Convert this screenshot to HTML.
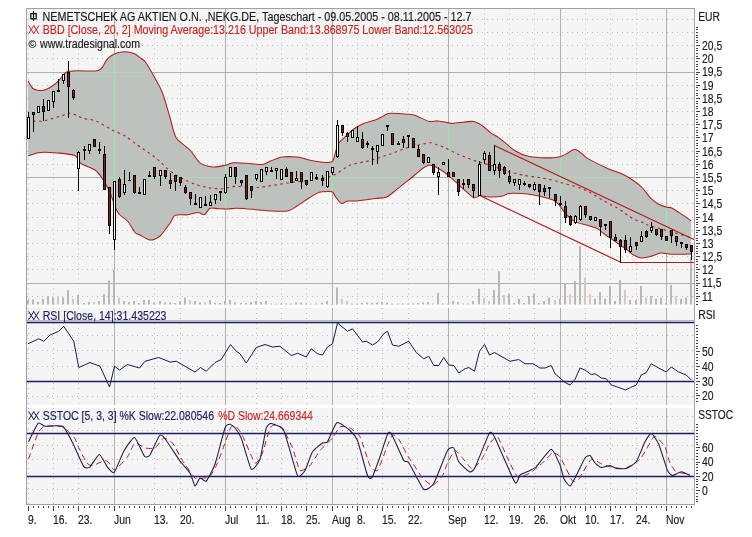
<!DOCTYPE html>
<html><head><meta charset="utf-8"><style>html,body{margin:0;padding:0;width:752px;height:537px;overflow:hidden;background:#fff}</style></head>
<body><svg width="752" height="537" viewBox="0 0 752 537" style="position:absolute;left:0;top:0;will-change:transform" font-family='"Liberation Sans", sans-serif'><rect x="0" y="0" width="752" height="537" fill="#ffffff"/><rect x="27" y="8.5" width="668" height="296.5" fill="#f5f5f5"/><rect x="27" y="308" width="668" height="97" fill="#f5f5f5"/><rect x="27" y="408" width="668" height="96.5" fill="#f5f5f5"/><line x1="27" y1="19.5" x2="695" y2="19.5" stroke="#bcbcbc" stroke-width="1" stroke-dasharray="1 4"/><line x1="27" y1="32.5" x2="695" y2="32.5" stroke="#bcbcbc" stroke-width="1" stroke-dasharray="1 4"/><line x1="27" y1="45.5" x2="695" y2="45.5" stroke="#bcbcbc" stroke-width="1" stroke-dasharray="1 4"/><line x1="27" y1="58.5" x2="695" y2="58.5" stroke="#bcbcbc" stroke-width="1" stroke-dasharray="1 4"/><line x1="27" y1="72.5" x2="695" y2="72.5" stroke="#a8b4a8" stroke-width="1"/><line x1="27" y1="85.5" x2="695" y2="85.5" stroke="#bcbcbc" stroke-width="1" stroke-dasharray="1 4"/><line x1="27" y1="98.5" x2="695" y2="98.5" stroke="#bcbcbc" stroke-width="1" stroke-dasharray="1 4"/><line x1="27" y1="111.5" x2="695" y2="111.5" stroke="#bcbcbc" stroke-width="1" stroke-dasharray="1 4"/><line x1="27" y1="124.5" x2="695" y2="124.5" stroke="#bcbcbc" stroke-width="1" stroke-dasharray="1 4"/><line x1="27" y1="137.5" x2="695" y2="137.5" stroke="#bcbcbc" stroke-width="1" stroke-dasharray="1 4"/><line x1="27" y1="151.5" x2="695" y2="151.5" stroke="#bcbcbc" stroke-width="1" stroke-dasharray="1 4"/><line x1="27" y1="164.5" x2="695" y2="164.5" stroke="#bcbcbc" stroke-width="1" stroke-dasharray="1 4"/><line x1="27" y1="177.5" x2="695" y2="177.5" stroke="#a8b4a8" stroke-width="1"/><line x1="27" y1="190.5" x2="695" y2="190.5" stroke="#bcbcbc" stroke-width="1" stroke-dasharray="1 4"/><line x1="27" y1="203.5" x2="695" y2="203.5" stroke="#bcbcbc" stroke-width="1" stroke-dasharray="1 4"/><line x1="27" y1="217.5" x2="695" y2="217.5" stroke="#bcbcbc" stroke-width="1" stroke-dasharray="1 4"/><line x1="27" y1="230.5" x2="695" y2="230.5" stroke="#bcbcbc" stroke-width="1" stroke-dasharray="1 4"/><line x1="27" y1="243.5" x2="695" y2="243.5" stroke="#bcbcbc" stroke-width="1" stroke-dasharray="1 4"/><line x1="27" y1="256.5" x2="695" y2="256.5" stroke="#bcbcbc" stroke-width="1" stroke-dasharray="1 4"/><line x1="27" y1="269.5" x2="695" y2="269.5" stroke="#bcbcbc" stroke-width="1" stroke-dasharray="1 4"/><line x1="27" y1="283.5" x2="695" y2="283.5" stroke="#a8b4a8" stroke-width="1"/><line x1="27" y1="296.5" x2="695" y2="296.5" stroke="#bcbcbc" stroke-width="1" stroke-dasharray="1 4"/><line x1="28.5" y1="8.5" x2="28.5" y2="305" stroke="#bcbcbc" stroke-width="1" stroke-dasharray="1 4"/><line x1="53.5" y1="8.5" x2="53.5" y2="305" stroke="#bcbcbc" stroke-width="1" stroke-dasharray="1 4"/><line x1="78.5" y1="8.5" x2="78.5" y2="305" stroke="#bcbcbc" stroke-width="1" stroke-dasharray="1 4"/><line x1="154.5" y1="8.5" x2="154.5" y2="305" stroke="#bcbcbc" stroke-width="1" stroke-dasharray="1 4"/><line x1="180.5" y1="8.5" x2="180.5" y2="305" stroke="#bcbcbc" stroke-width="1" stroke-dasharray="1 4"/><line x1="256.5" y1="8.5" x2="256.5" y2="305" stroke="#bcbcbc" stroke-width="1" stroke-dasharray="1 4"/><line x1="281.5" y1="8.5" x2="281.5" y2="305" stroke="#bcbcbc" stroke-width="1" stroke-dasharray="1 4"/><line x1="306.5" y1="8.5" x2="306.5" y2="305" stroke="#bcbcbc" stroke-width="1" stroke-dasharray="1 4"/><line x1="357.5" y1="8.5" x2="357.5" y2="305" stroke="#bcbcbc" stroke-width="1" stroke-dasharray="1 4"/><line x1="382.5" y1="8.5" x2="382.5" y2="305" stroke="#bcbcbc" stroke-width="1" stroke-dasharray="1 4"/><line x1="408.5" y1="8.5" x2="408.5" y2="305" stroke="#bcbcbc" stroke-width="1" stroke-dasharray="1 4"/><line x1="484.5" y1="8.5" x2="484.5" y2="305" stroke="#bcbcbc" stroke-width="1" stroke-dasharray="1 4"/><line x1="509.5" y1="8.5" x2="509.5" y2="305" stroke="#bcbcbc" stroke-width="1" stroke-dasharray="1 4"/><line x1="534.5" y1="8.5" x2="534.5" y2="305" stroke="#bcbcbc" stroke-width="1" stroke-dasharray="1 4"/><line x1="585.5" y1="8.5" x2="585.5" y2="305" stroke="#bcbcbc" stroke-width="1" stroke-dasharray="1 4"/><line x1="610.5" y1="8.5" x2="610.5" y2="305" stroke="#bcbcbc" stroke-width="1" stroke-dasharray="1 4"/><line x1="636.5" y1="8.5" x2="636.5" y2="305" stroke="#bcbcbc" stroke-width="1" stroke-dasharray="1 4"/><line x1="114.5" y1="8.5" x2="114.5" y2="305" stroke="#a8b4a8" stroke-width="1"/><line x1="225.5" y1="8.5" x2="225.5" y2="305" stroke="#a8b4a8" stroke-width="1"/><line x1="332.5" y1="8.5" x2="332.5" y2="305" stroke="#a8b4a8" stroke-width="1"/><line x1="448.5" y1="8.5" x2="448.5" y2="305" stroke="#a8b4a8" stroke-width="1"/><line x1="560.5" y1="8.5" x2="560.5" y2="305" stroke="#a8b4a8" stroke-width="1"/><line x1="666.5" y1="8.5" x2="666.5" y2="305" stroke="#a8b4a8" stroke-width="1"/><rect x="27" y="300" width="2" height="4.5" fill="#b8b8b8"/><rect x="32" y="299.5" width="2" height="5.0" fill="#b8b8b8"/><rect x="37" y="302" width="2" height="2.5" fill="#b8b8b8"/><rect x="42" y="299" width="2" height="5.5" fill="#b8b8b8"/><rect x="47" y="296" width="2" height="8.5" fill="#b8b8b8"/><rect x="52" y="297.5" width="2" height="7.0" fill="#b8b8b8"/><rect x="57" y="296" width="2" height="8.5" fill="#dcc4c4"/><rect x="62" y="297.5" width="2" height="7.0" fill="#b8b8b8"/><rect x="67" y="290" width="2" height="14.5" fill="#b8b8b8"/><rect x="72" y="299" width="2" height="5.5" fill="#dcc4c4"/><rect x="77" y="295" width="2" height="9.5" fill="#b8b8b8"/><rect x="83" y="303" width="2" height="1.5" fill="#b8b8b8"/><rect x="88" y="302" width="2" height="2.5" fill="#b8b8b8"/><rect x="93" y="302" width="2" height="2.5" fill="#dcc4c4"/><rect x="98" y="301" width="2" height="3.5" fill="#b8b8b8"/><rect x="103" y="294" width="2" height="10.5" fill="#b8b8b8"/><rect x="108" y="280.5" width="2" height="24.0" fill="#b8b8b8"/><rect x="113" y="270" width="2" height="34.5" fill="#b8b8b8"/><rect x="118" y="297.5" width="2" height="7.0" fill="#dcc4c4"/><rect x="123" y="301" width="2" height="3.5" fill="#b8b8b8"/><rect x="128" y="302" width="2" height="2.5" fill="#b8b8b8"/><rect x="133" y="301" width="2" height="3.5" fill="#b8b8b8"/><rect x="138" y="303" width="2" height="1.5" fill="#b8b8b8"/><rect x="143" y="300" width="2" height="4.5" fill="#b8b8b8"/><rect x="148" y="300" width="2" height="4.5" fill="#b8b8b8"/><rect x="153" y="302.5" width="2" height="2.0" fill="#b8b8b8"/><rect x="159" y="301" width="2" height="3.5" fill="#b8b8b8"/><rect x="164" y="302.5" width="2" height="2.0" fill="#b8b8b8"/><rect x="169" y="302.5" width="2" height="2.0" fill="#b8b8b8"/><rect x="174" y="303" width="2" height="1.5" fill="#b8b8b8"/><rect x="179" y="301" width="2" height="3.5" fill="#b8b8b8"/><rect x="184" y="297.5" width="2" height="7.0" fill="#b8b8b8"/><rect x="189" y="300" width="2" height="4.5" fill="#dcc4c4"/><rect x="194" y="301" width="2" height="3.5" fill="#b8b8b8"/><rect x="199" y="302.5" width="2" height="2.0" fill="#b8b8b8"/><rect x="204" y="302.5" width="2" height="2.0" fill="#dcc4c4"/><rect x="209" y="300" width="2" height="4.5" fill="#b8b8b8"/><rect x="214" y="303" width="2" height="1.5" fill="#b8b8b8"/><rect x="219" y="303" width="2" height="1.5" fill="#b8b8b8"/><rect x="224" y="301" width="2" height="3.5" fill="#b8b8b8"/><rect x="229" y="300" width="2" height="4.5" fill="#b8b8b8"/><rect x="234" y="302.5" width="2" height="2.0" fill="#b8b8b8"/><rect x="240" y="303" width="2" height="1.5" fill="#b8b8b8"/><rect x="245" y="303" width="2" height="1.5" fill="#b8b8b8"/><rect x="250" y="302" width="2" height="2.5" fill="#b8b8b8"/><rect x="255" y="301" width="2" height="3.5" fill="#b8b8b8"/><rect x="260" y="302" width="2" height="2.5" fill="#b8b8b8"/><rect x="265" y="301" width="2" height="3.5" fill="#b8b8b8"/><rect x="270" y="303.5" width="2" height="1.0" fill="#b8b8b8"/><rect x="275" y="303.75" width="2" height="0.75" fill="#b8b8b8"/><rect x="280" y="303.75" width="2" height="0.75" fill="#b8b8b8"/><rect x="285" y="303.5" width="2" height="1.0" fill="#b8b8b8"/><rect x="290" y="303.5" width="2" height="1.0" fill="#b8b8b8"/><rect x="295" y="302.5" width="2" height="2.0" fill="#b8b8b8"/><rect x="300" y="302.5" width="2" height="2.0" fill="#b8b8b8"/><rect x="305" y="303.5" width="2" height="1.0" fill="#b8b8b8"/><rect x="310" y="303.75" width="2" height="0.75" fill="#b8b8b8"/><rect x="315" y="303.5" width="2" height="1.0" fill="#b8b8b8"/><rect x="321" y="302.5" width="2" height="2.0" fill="#b8b8b8"/><rect x="326" y="301" width="2" height="3.5" fill="#b8b8b8"/><rect x="331" y="303.75" width="2" height="0.75" fill="#b8b8b8"/><rect x="336" y="287.5" width="2" height="17.0" fill="#b8b8b8"/><rect x="341" y="299" width="2" height="5.5" fill="#dcc4c4"/><rect x="346" y="301" width="2" height="3.5" fill="#dcc4c4"/><rect x="351" y="303.5" width="2" height="1.0" fill="#b8b8b8"/><rect x="356" y="303.75" width="2" height="0.75" fill="#b8b8b8"/><rect x="361" y="303" width="2" height="1.5" fill="#b8b8b8"/><rect x="366" y="302.5" width="2" height="2.0" fill="#b8b8b8"/><rect x="371" y="303" width="2" height="1.5" fill="#b8b8b8"/><rect x="376" y="302.5" width="2" height="2.0" fill="#b8b8b8"/><rect x="381" y="302" width="2" height="2.5" fill="#b8b8b8"/><rect x="386" y="302.5" width="2" height="2.0" fill="#b8b8b8"/><rect x="391" y="303.5" width="2" height="1.0" fill="#b8b8b8"/><rect x="397" y="303.5" width="2" height="1.0" fill="#b8b8b8"/><rect x="402" y="303.5" width="2" height="1.0" fill="#b8b8b8"/><rect x="407" y="303.5" width="2" height="1.0" fill="#b8b8b8"/><rect x="412" y="303.5" width="2" height="1.0" fill="#b8b8b8"/><rect x="417" y="303" width="2" height="1.5" fill="#b8b8b8"/><rect x="422" y="302.5" width="2" height="2.0" fill="#b8b8b8"/><rect x="427" y="302" width="2" height="2.5" fill="#b8b8b8"/><rect x="432" y="303.5" width="2" height="1.0" fill="#b8b8b8"/><rect x="437" y="293" width="2" height="11.5" fill="#b8b8b8"/><rect x="442" y="303.5" width="2" height="1.0" fill="#b8b8b8"/><rect x="447" y="303.5" width="2" height="1.0" fill="#b8b8b8"/><rect x="452" y="301" width="2" height="3.5" fill="#b8b8b8"/><rect x="457" y="302" width="2" height="2.5" fill="#b8b8b8"/><rect x="462" y="303.5" width="2" height="1.0" fill="#b8b8b8"/><rect x="467" y="303.5" width="2" height="1.0" fill="#b8b8b8"/><rect x="472" y="301" width="2" height="3.5" fill="#b8b8b8"/><rect x="478" y="288.75" width="2" height="15.75" fill="#b8b8b8"/><rect x="483" y="297.5" width="2" height="7.0" fill="#dcc4c4"/><rect x="488" y="301" width="2" height="3.5" fill="#dcc4c4"/><rect x="493" y="290" width="2" height="14.5" fill="#b8b8b8"/><rect x="498" y="271.25" width="2" height="33.25" fill="#b8b8b8"/><rect x="503" y="295" width="2" height="9.5" fill="#dcc4c4"/><rect x="508" y="293.75" width="2" height="10.75" fill="#b8b8b8"/><rect x="513" y="303" width="2" height="1.5" fill="#b8b8b8"/><rect x="518" y="298.75" width="2" height="5.75" fill="#b8b8b8"/><rect x="523" y="303" width="2" height="1.5" fill="#b8b8b8"/><rect x="528" y="296" width="2" height="8.5" fill="#b8b8b8"/><rect x="533" y="293.75" width="2" height="10.75" fill="#b8b8b8"/><rect x="538" y="303" width="2" height="1.5" fill="#b8b8b8"/><rect x="543" y="301" width="2" height="3.5" fill="#b8b8b8"/><rect x="548" y="297.5" width="2" height="7.0" fill="#b8b8b8"/><rect x="554" y="300" width="2" height="4.5" fill="#dcc4c4"/><rect x="559" y="298.75" width="2" height="5.75" fill="#b8b8b8"/><rect x="564" y="283" width="2" height="21.5" fill="#b8b8b8"/><rect x="569" y="293.75" width="2" height="10.75" fill="#dcc4c4"/><rect x="574" y="281" width="2" height="23.5" fill="#b8b8b8"/><rect x="579" y="246" width="2" height="58.5" fill="#b8b8b8"/><rect x="584" y="277.5" width="2" height="27.0" fill="#dcc4c4"/><rect x="589" y="293.75" width="2" height="10.75" fill="#dcc4c4"/><rect x="594" y="298.75" width="2" height="5.75" fill="#b8b8b8"/><rect x="599" y="292" width="2" height="12.5" fill="#b8b8b8"/><rect x="604" y="298.75" width="2" height="5.75" fill="#b8b8b8"/><rect x="609" y="286" width="2" height="18.5" fill="#b8b8b8"/><rect x="614" y="301" width="2" height="3.5" fill="#b8b8b8"/><rect x="619" y="280" width="2" height="24.5" fill="#b8b8b8"/><rect x="624" y="290" width="2" height="14.5" fill="#dcc4c4"/><rect x="629" y="300" width="2" height="4.5" fill="#b8b8b8"/><rect x="635" y="300" width="2" height="4.5" fill="#b8b8b8"/><rect x="640" y="286" width="2" height="18.5" fill="#b8b8b8"/><rect x="645" y="297.5" width="2" height="7.0" fill="#dcc4c4"/><rect x="650" y="296" width="2" height="8.5" fill="#b8b8b8"/><rect x="655" y="298.75" width="2" height="5.75" fill="#b8b8b8"/><rect x="660" y="297.5" width="2" height="7.0" fill="#b8b8b8"/><rect x="665" y="303" width="2" height="1.5" fill="#b8b8b8"/><rect x="670" y="285" width="2" height="19.5" fill="#b8b8b8"/><rect x="675" y="296" width="2" height="8.5" fill="#dcc4c4"/><rect x="680" y="298.75" width="2" height="5.75" fill="#b8b8b8"/><rect x="685" y="297.5" width="2" height="7.0" fill="#b8b8b8"/><rect x="690" y="257.5" width="2" height="47.0" fill="#b8b8b8"/><path d="M28.00,81.00 C28.67,82.00 31.67,87.26 33.00,88.50 C34.33,89.74 36.60,90.06 38.00,90.30 C39.40,90.54 41.90,90.67 43.50,90.30 C45.10,89.93 48.09,88.66 50.00,87.50 C51.91,86.34 55.71,83.59 57.80,81.60 C59.89,79.61 64.07,73.99 65.70,72.60 C67.33,71.21 68.43,71.44 70.00,71.20 C71.57,70.96 74.11,70.83 77.50,70.80 C80.89,70.77 92.53,71.11 95.40,71.00 C98.27,70.89 98.11,70.45 99.00,70.00 C99.89,69.55 101.02,69.03 102.10,67.60 C103.18,66.17 105.54,61.09 107.10,59.30 C108.66,57.51 111.56,55.21 113.80,54.20 C116.04,53.19 121.22,51.81 123.90,51.70 C126.58,51.59 131.59,52.49 133.90,53.40 C136.21,54.31 139.72,57.42 141.20,58.50 C142.68,59.58 144.01,60.37 145.00,61.50 C145.99,62.63 147.23,64.69 148.60,67.00 C149.97,69.31 153.45,75.33 155.30,78.80 C157.15,82.27 160.54,87.84 162.50,93.00 C164.46,98.16 168.20,111.57 170.00,117.50 C171.80,123.43 173.33,133.17 176.00,137.50 C178.67,141.83 186.80,146.63 190.00,150.00 C193.20,153.37 196.88,160.53 200.00,162.80 C203.12,165.07 210.05,166.67 213.40,167.00 C216.75,167.33 222.42,165.86 225.10,165.30 C227.78,164.74 230.59,163.07 233.50,162.80 C236.41,162.53 243.10,163.07 246.90,163.30 C250.70,163.53 258.87,164.79 262.00,164.50 C265.13,164.21 267.72,162.10 270.40,161.10 C273.08,160.10 278.53,157.55 282.10,157.00 C285.67,156.45 294.29,156.79 297.20,157.00 C300.11,157.21 301.67,158.05 303.90,158.60 C306.13,159.15 311.09,160.58 313.90,161.10 C316.71,161.62 322.51,162.50 325.00,162.50 C327.49,162.50 331.25,162.29 332.60,161.10 C333.95,159.91 334.33,155.93 335.10,153.60 C335.87,151.27 337.07,145.83 338.40,143.60 C339.73,141.37 343.09,138.81 345.10,136.90 C347.11,134.99 351.03,131.09 353.50,129.30 C355.97,127.51 360.69,124.73 363.60,123.50 C366.51,122.27 372.63,121.11 375.30,120.10 C377.97,119.09 381.81,116.79 383.60,115.90 C385.39,115.01 385.57,113.63 388.70,113.40 C391.83,113.17 403.53,113.93 407.10,114.20 C410.67,114.47 412.59,114.44 415.50,115.40 C418.41,116.36 425.99,120.67 428.90,121.40 C431.81,122.13 435.15,120.81 437.30,120.90 C439.45,120.99 442.96,121.77 445.00,122.10 C447.04,122.43 448.80,123.49 452.60,123.40 C456.40,123.31 469.37,120.95 473.50,121.40 C477.63,121.85 481.36,125.31 483.60,126.80 C485.84,128.29 488.30,131.16 490.30,132.60 C492.30,134.04 496.37,136.04 498.60,137.60 C500.83,139.16 504.76,142.51 507.00,144.30 C509.24,146.09 512.72,149.43 515.40,151.00 C518.08,152.57 523.75,155.21 527.10,156.10 C530.45,156.99 536.93,157.49 540.50,157.70 C544.07,157.91 551.30,157.82 553.90,157.70 C556.50,157.58 558.25,157.36 560.00,156.80 C561.75,156.24 565.01,154.50 567.00,153.50 C568.99,152.50 572.86,149.23 574.90,149.30 C576.94,149.37 580.57,152.76 582.30,154.00 C584.03,155.24 584.66,156.75 587.90,158.60 C591.14,160.45 601.88,165.78 606.60,167.90 C611.32,170.02 619.83,172.89 623.30,174.50 C626.77,176.11 630.11,178.27 632.60,180.00 C635.09,181.73 639.52,185.01 642.00,187.50 C644.48,189.99 648.97,196.47 651.20,198.70 C653.43,200.93 656.71,203.09 658.70,204.20 C660.69,205.31 664.37,206.49 666.10,207.00 C667.83,207.51 669.95,207.25 671.70,208.00 C673.45,208.75 676.60,210.89 679.20,212.60 C681.80,214.31 689.60,219.71 691.20,220.80 L691.20,253.90 C689.05,253.95 678.50,254.34 675.10,254.30 C671.70,254.26 667.67,253.77 665.70,253.60 C663.73,253.43 662.26,252.64 660.30,253.00 C658.34,253.36 653.49,255.65 651.00,256.30 C648.51,256.95 643.93,258.07 641.60,257.90 C639.27,257.73 635.47,256.11 633.50,255.00 C631.53,253.89 629.48,251.57 626.80,249.60 C624.12,247.63 616.31,242.21 613.40,240.20 C610.49,238.19 607.15,236.05 605.00,234.50 C602.85,232.95 599.67,229.83 597.30,228.60 C594.93,227.37 590.11,226.19 587.20,225.30 C584.29,224.41 578.18,223.23 575.50,221.90 C572.82,220.57 569.11,217.30 567.10,215.30 C565.09,213.30 562.19,208.91 560.40,206.90 C558.61,204.89 557.27,201.77 553.70,200.20 C550.13,198.63 537.84,195.99 533.60,195.10 C529.36,194.21 525.25,193.71 521.90,193.50 C518.55,193.29 511.18,193.13 508.50,193.50 C505.82,193.87 504.71,195.86 501.80,196.30 C498.89,196.74 489.61,196.91 486.70,196.80 C483.79,196.69 481.72,195.37 480.00,195.50 C478.28,195.63 475.96,198.61 473.80,197.80 C471.64,196.99 466.48,191.75 463.80,189.40 C461.12,187.05 456.38,182.55 453.70,180.20 C451.02,177.85 446.38,173.69 443.70,171.80 C441.02,169.91 435.61,166.87 433.60,166.00 C431.59,165.13 429.88,165.10 428.60,165.30 C427.32,165.50 425.35,166.63 424.00,167.50 C422.65,168.37 420.57,170.11 418.50,171.80 C416.43,173.49 411.39,177.85 408.50,180.20 C405.61,182.55 399.71,187.16 396.80,189.40 C393.89,191.64 389.61,195.79 386.70,197.00 C383.79,198.21 379.23,197.97 375.00,198.50 C370.77,199.03 358.69,200.67 355.00,201.00 C351.31,201.33 349.11,200.67 347.30,201.00 C345.49,201.33 342.97,204.06 341.40,203.50 C339.83,202.94 336.73,198.36 335.50,196.80 C334.27,195.24 333.99,192.47 332.20,191.80 C330.41,191.13 324.11,191.63 322.10,191.80 C320.09,191.97 319.10,192.10 317.10,193.10 C315.10,194.10 309.78,197.58 307.10,199.30 C304.42,201.02 299.57,204.44 297.00,206.00 C294.43,207.56 291.37,210.33 287.80,211.00 C284.23,211.67 274.00,211.15 270.20,211.00 C266.40,210.85 262.87,210.23 259.30,209.90 C255.73,209.57 246.61,208.71 243.40,208.50 C240.19,208.29 237.29,208.23 235.20,208.30 C233.11,208.37 229.94,208.95 227.70,209.00 C225.46,209.05 220.76,208.79 218.40,208.70 C216.04,208.61 211.85,207.51 210.00,208.30 C208.15,209.09 206.11,214.04 204.50,214.60 C202.89,215.16 200.14,212.47 197.90,212.50 C195.66,212.53 190.74,214.43 187.70,214.80 C184.66,215.17 177.46,214.18 175.10,215.30 C172.74,216.42 172.01,220.44 170.00,223.20 C167.99,225.96 162.67,233.76 160.00,236.00 C157.33,238.24 152.67,240.13 150.00,240.00 C147.33,239.87 142.00,236.00 140.00,235.00 C138.00,234.00 136.67,234.37 135.00,232.50 C133.33,230.63 129.50,223.33 127.50,221.00 C125.50,218.67 121.53,216.60 120.00,215.00 C118.47,213.40 117.33,212.00 116.00,209.00 C114.67,206.00 111.80,196.53 110.00,192.50 C108.20,188.47 104.50,181.75 102.50,178.75 C100.50,175.75 97.87,172.03 95.00,170.00 C92.13,167.97 83.67,165.43 81.00,163.50 C78.33,161.57 78.13,156.90 75.00,155.50 C71.87,154.10 62.17,153.40 57.50,153.00 C52.83,152.60 43.93,152.10 40.00,152.50 C36.07,152.90 29.60,155.53 28.00,156.00 Z" fill="#bec2be" stroke="none"/><clipPath id="bc"><path d="M28.00,81.00 C28.67,82.00 31.67,87.26 33.00,88.50 C34.33,89.74 36.60,90.06 38.00,90.30 C39.40,90.54 41.90,90.67 43.50,90.30 C45.10,89.93 48.09,88.66 50.00,87.50 C51.91,86.34 55.71,83.59 57.80,81.60 C59.89,79.61 64.07,73.99 65.70,72.60 C67.33,71.21 68.43,71.44 70.00,71.20 C71.57,70.96 74.11,70.83 77.50,70.80 C80.89,70.77 92.53,71.11 95.40,71.00 C98.27,70.89 98.11,70.45 99.00,70.00 C99.89,69.55 101.02,69.03 102.10,67.60 C103.18,66.17 105.54,61.09 107.10,59.30 C108.66,57.51 111.56,55.21 113.80,54.20 C116.04,53.19 121.22,51.81 123.90,51.70 C126.58,51.59 131.59,52.49 133.90,53.40 C136.21,54.31 139.72,57.42 141.20,58.50 C142.68,59.58 144.01,60.37 145.00,61.50 C145.99,62.63 147.23,64.69 148.60,67.00 C149.97,69.31 153.45,75.33 155.30,78.80 C157.15,82.27 160.54,87.84 162.50,93.00 C164.46,98.16 168.20,111.57 170.00,117.50 C171.80,123.43 173.33,133.17 176.00,137.50 C178.67,141.83 186.80,146.63 190.00,150.00 C193.20,153.37 196.88,160.53 200.00,162.80 C203.12,165.07 210.05,166.67 213.40,167.00 C216.75,167.33 222.42,165.86 225.10,165.30 C227.78,164.74 230.59,163.07 233.50,162.80 C236.41,162.53 243.10,163.07 246.90,163.30 C250.70,163.53 258.87,164.79 262.00,164.50 C265.13,164.21 267.72,162.10 270.40,161.10 C273.08,160.10 278.53,157.55 282.10,157.00 C285.67,156.45 294.29,156.79 297.20,157.00 C300.11,157.21 301.67,158.05 303.90,158.60 C306.13,159.15 311.09,160.58 313.90,161.10 C316.71,161.62 322.51,162.50 325.00,162.50 C327.49,162.50 331.25,162.29 332.60,161.10 C333.95,159.91 334.33,155.93 335.10,153.60 C335.87,151.27 337.07,145.83 338.40,143.60 C339.73,141.37 343.09,138.81 345.10,136.90 C347.11,134.99 351.03,131.09 353.50,129.30 C355.97,127.51 360.69,124.73 363.60,123.50 C366.51,122.27 372.63,121.11 375.30,120.10 C377.97,119.09 381.81,116.79 383.60,115.90 C385.39,115.01 385.57,113.63 388.70,113.40 C391.83,113.17 403.53,113.93 407.10,114.20 C410.67,114.47 412.59,114.44 415.50,115.40 C418.41,116.36 425.99,120.67 428.90,121.40 C431.81,122.13 435.15,120.81 437.30,120.90 C439.45,120.99 442.96,121.77 445.00,122.10 C447.04,122.43 448.80,123.49 452.60,123.40 C456.40,123.31 469.37,120.95 473.50,121.40 C477.63,121.85 481.36,125.31 483.60,126.80 C485.84,128.29 488.30,131.16 490.30,132.60 C492.30,134.04 496.37,136.04 498.60,137.60 C500.83,139.16 504.76,142.51 507.00,144.30 C509.24,146.09 512.72,149.43 515.40,151.00 C518.08,152.57 523.75,155.21 527.10,156.10 C530.45,156.99 536.93,157.49 540.50,157.70 C544.07,157.91 551.30,157.82 553.90,157.70 C556.50,157.58 558.25,157.36 560.00,156.80 C561.75,156.24 565.01,154.50 567.00,153.50 C568.99,152.50 572.86,149.23 574.90,149.30 C576.94,149.37 580.57,152.76 582.30,154.00 C584.03,155.24 584.66,156.75 587.90,158.60 C591.14,160.45 601.88,165.78 606.60,167.90 C611.32,170.02 619.83,172.89 623.30,174.50 C626.77,176.11 630.11,178.27 632.60,180.00 C635.09,181.73 639.52,185.01 642.00,187.50 C644.48,189.99 648.97,196.47 651.20,198.70 C653.43,200.93 656.71,203.09 658.70,204.20 C660.69,205.31 664.37,206.49 666.10,207.00 C667.83,207.51 669.95,207.25 671.70,208.00 C673.45,208.75 676.60,210.89 679.20,212.60 C681.80,214.31 689.60,219.71 691.20,220.80 L691.20,253.90 C689.05,253.95 678.50,254.34 675.10,254.30 C671.70,254.26 667.67,253.77 665.70,253.60 C663.73,253.43 662.26,252.64 660.30,253.00 C658.34,253.36 653.49,255.65 651.00,256.30 C648.51,256.95 643.93,258.07 641.60,257.90 C639.27,257.73 635.47,256.11 633.50,255.00 C631.53,253.89 629.48,251.57 626.80,249.60 C624.12,247.63 616.31,242.21 613.40,240.20 C610.49,238.19 607.15,236.05 605.00,234.50 C602.85,232.95 599.67,229.83 597.30,228.60 C594.93,227.37 590.11,226.19 587.20,225.30 C584.29,224.41 578.18,223.23 575.50,221.90 C572.82,220.57 569.11,217.30 567.10,215.30 C565.09,213.30 562.19,208.91 560.40,206.90 C558.61,204.89 557.27,201.77 553.70,200.20 C550.13,198.63 537.84,195.99 533.60,195.10 C529.36,194.21 525.25,193.71 521.90,193.50 C518.55,193.29 511.18,193.13 508.50,193.50 C505.82,193.87 504.71,195.86 501.80,196.30 C498.89,196.74 489.61,196.91 486.70,196.80 C483.79,196.69 481.72,195.37 480.00,195.50 C478.28,195.63 475.96,198.61 473.80,197.80 C471.64,196.99 466.48,191.75 463.80,189.40 C461.12,187.05 456.38,182.55 453.70,180.20 C451.02,177.85 446.38,173.69 443.70,171.80 C441.02,169.91 435.61,166.87 433.60,166.00 C431.59,165.13 429.88,165.10 428.60,165.30 C427.32,165.50 425.35,166.63 424.00,167.50 C422.65,168.37 420.57,170.11 418.50,171.80 C416.43,173.49 411.39,177.85 408.50,180.20 C405.61,182.55 399.71,187.16 396.80,189.40 C393.89,191.64 389.61,195.79 386.70,197.00 C383.79,198.21 379.23,197.97 375.00,198.50 C370.77,199.03 358.69,200.67 355.00,201.00 C351.31,201.33 349.11,200.67 347.30,201.00 C345.49,201.33 342.97,204.06 341.40,203.50 C339.83,202.94 336.73,198.36 335.50,196.80 C334.27,195.24 333.99,192.47 332.20,191.80 C330.41,191.13 324.11,191.63 322.10,191.80 C320.09,191.97 319.10,192.10 317.10,193.10 C315.10,194.10 309.78,197.58 307.10,199.30 C304.42,201.02 299.57,204.44 297.00,206.00 C294.43,207.56 291.37,210.33 287.80,211.00 C284.23,211.67 274.00,211.15 270.20,211.00 C266.40,210.85 262.87,210.23 259.30,209.90 C255.73,209.57 246.61,208.71 243.40,208.50 C240.19,208.29 237.29,208.23 235.20,208.30 C233.11,208.37 229.94,208.95 227.70,209.00 C225.46,209.05 220.76,208.79 218.40,208.70 C216.04,208.61 211.85,207.51 210.00,208.30 C208.15,209.09 206.11,214.04 204.50,214.60 C202.89,215.16 200.14,212.47 197.90,212.50 C195.66,212.53 190.74,214.43 187.70,214.80 C184.66,215.17 177.46,214.18 175.10,215.30 C172.74,216.42 172.01,220.44 170.00,223.20 C167.99,225.96 162.67,233.76 160.00,236.00 C157.33,238.24 152.67,240.13 150.00,240.00 C147.33,239.87 142.00,236.00 140.00,235.00 C138.00,234.00 136.67,234.37 135.00,232.50 C133.33,230.63 129.50,223.33 127.50,221.00 C125.50,218.67 121.53,216.60 120.00,215.00 C118.47,213.40 117.33,212.00 116.00,209.00 C114.67,206.00 111.80,196.53 110.00,192.50 C108.20,188.47 104.50,181.75 102.50,178.75 C100.50,175.75 97.87,172.03 95.00,170.00 C92.13,167.97 83.67,165.43 81.00,163.50 C78.33,161.57 78.13,156.90 75.00,155.50 C71.87,154.10 62.17,153.40 57.50,153.00 C52.83,152.60 43.93,152.10 40.00,152.50 C36.07,152.90 29.60,155.53 28.00,156.00 Z"/></clipPath><g clip-path="url(#bc)"><line x1="27" y1="72.5" x2="695" y2="72.5" stroke="#b0d8b0" stroke-width="1"/><line x1="27" y1="177.5" x2="695" y2="177.5" stroke="#b0d8b0" stroke-width="1"/><line x1="114.5" y1="8.5" x2="114.5" y2="305" stroke="#a8dca8" stroke-width="1.5"/><line x1="225.5" y1="8.5" x2="225.5" y2="305" stroke="#a8dca8" stroke-width="1.5"/><line x1="332.5" y1="8.5" x2="332.5" y2="305" stroke="#a8dca8" stroke-width="1.5"/><line x1="448.5" y1="8.5" x2="448.5" y2="305" stroke="#a8dca8" stroke-width="1.5"/><line x1="560.5" y1="8.5" x2="560.5" y2="305" stroke="#a8dca8" stroke-width="1.5"/><line x1="666.5" y1="8.5" x2="666.5" y2="305" stroke="#a8dca8" stroke-width="1.5"/></g><path d="M28.00,81.00 C28.67,82.00 31.67,87.26 33.00,88.50 C34.33,89.74 36.60,90.06 38.00,90.30 C39.40,90.54 41.90,90.67 43.50,90.30 C45.10,89.93 48.09,88.66 50.00,87.50 C51.91,86.34 55.71,83.59 57.80,81.60 C59.89,79.61 64.07,73.99 65.70,72.60 C67.33,71.21 68.43,71.44 70.00,71.20 C71.57,70.96 74.11,70.83 77.50,70.80 C80.89,70.77 92.53,71.11 95.40,71.00 C98.27,70.89 98.11,70.45 99.00,70.00 C99.89,69.55 101.02,69.03 102.10,67.60 C103.18,66.17 105.54,61.09 107.10,59.30 C108.66,57.51 111.56,55.21 113.80,54.20 C116.04,53.19 121.22,51.81 123.90,51.70 C126.58,51.59 131.59,52.49 133.90,53.40 C136.21,54.31 139.72,57.42 141.20,58.50 C142.68,59.58 144.01,60.37 145.00,61.50 C145.99,62.63 147.23,64.69 148.60,67.00 C149.97,69.31 153.45,75.33 155.30,78.80 C157.15,82.27 160.54,87.84 162.50,93.00 C164.46,98.16 168.20,111.57 170.00,117.50 C171.80,123.43 173.33,133.17 176.00,137.50 C178.67,141.83 186.80,146.63 190.00,150.00 C193.20,153.37 196.88,160.53 200.00,162.80 C203.12,165.07 210.05,166.67 213.40,167.00 C216.75,167.33 222.42,165.86 225.10,165.30 C227.78,164.74 230.59,163.07 233.50,162.80 C236.41,162.53 243.10,163.07 246.90,163.30 C250.70,163.53 258.87,164.79 262.00,164.50 C265.13,164.21 267.72,162.10 270.40,161.10 C273.08,160.10 278.53,157.55 282.10,157.00 C285.67,156.45 294.29,156.79 297.20,157.00 C300.11,157.21 301.67,158.05 303.90,158.60 C306.13,159.15 311.09,160.58 313.90,161.10 C316.71,161.62 322.51,162.50 325.00,162.50 C327.49,162.50 331.25,162.29 332.60,161.10 C333.95,159.91 334.33,155.93 335.10,153.60 C335.87,151.27 337.07,145.83 338.40,143.60 C339.73,141.37 343.09,138.81 345.10,136.90 C347.11,134.99 351.03,131.09 353.50,129.30 C355.97,127.51 360.69,124.73 363.60,123.50 C366.51,122.27 372.63,121.11 375.30,120.10 C377.97,119.09 381.81,116.79 383.60,115.90 C385.39,115.01 385.57,113.63 388.70,113.40 C391.83,113.17 403.53,113.93 407.10,114.20 C410.67,114.47 412.59,114.44 415.50,115.40 C418.41,116.36 425.99,120.67 428.90,121.40 C431.81,122.13 435.15,120.81 437.30,120.90 C439.45,120.99 442.96,121.77 445.00,122.10 C447.04,122.43 448.80,123.49 452.60,123.40 C456.40,123.31 469.37,120.95 473.50,121.40 C477.63,121.85 481.36,125.31 483.60,126.80 C485.84,128.29 488.30,131.16 490.30,132.60 C492.30,134.04 496.37,136.04 498.60,137.60 C500.83,139.16 504.76,142.51 507.00,144.30 C509.24,146.09 512.72,149.43 515.40,151.00 C518.08,152.57 523.75,155.21 527.10,156.10 C530.45,156.99 536.93,157.49 540.50,157.70 C544.07,157.91 551.30,157.82 553.90,157.70 C556.50,157.58 558.25,157.36 560.00,156.80 C561.75,156.24 565.01,154.50 567.00,153.50 C568.99,152.50 572.86,149.23 574.90,149.30 C576.94,149.37 580.57,152.76 582.30,154.00 C584.03,155.24 584.66,156.75 587.90,158.60 C591.14,160.45 601.88,165.78 606.60,167.90 C611.32,170.02 619.83,172.89 623.30,174.50 C626.77,176.11 630.11,178.27 632.60,180.00 C635.09,181.73 639.52,185.01 642.00,187.50 C644.48,189.99 648.97,196.47 651.20,198.70 C653.43,200.93 656.71,203.09 658.70,204.20 C660.69,205.31 664.37,206.49 666.10,207.00 C667.83,207.51 669.95,207.25 671.70,208.00 C673.45,208.75 676.60,210.89 679.20,212.60 C681.80,214.31 689.60,219.71 691.20,220.80" fill="none" stroke="#b01c1c" stroke-width="1.05"/><path d="M28.00,156.00 C29.60,155.53 36.07,152.90 40.00,152.50 C43.93,152.10 52.83,152.60 57.50,153.00 C62.17,153.40 71.87,154.10 75.00,155.50 C78.13,156.90 78.33,161.57 81.00,163.50 C83.67,165.43 92.13,167.97 95.00,170.00 C97.87,172.03 100.50,175.75 102.50,178.75 C104.50,181.75 108.20,188.47 110.00,192.50 C111.80,196.53 114.67,206.00 116.00,209.00 C117.33,212.00 118.47,213.40 120.00,215.00 C121.53,216.60 125.50,218.67 127.50,221.00 C129.50,223.33 133.33,230.63 135.00,232.50 C136.67,234.37 138.00,234.00 140.00,235.00 C142.00,236.00 147.33,239.87 150.00,240.00 C152.67,240.13 157.33,238.24 160.00,236.00 C162.67,233.76 167.99,225.96 170.00,223.20 C172.01,220.44 172.74,216.42 175.10,215.30 C177.46,214.18 184.66,215.17 187.70,214.80 C190.74,214.43 195.66,212.53 197.90,212.50 C200.14,212.47 202.89,215.16 204.50,214.60 C206.11,214.04 208.15,209.09 210.00,208.30 C211.85,207.51 216.04,208.61 218.40,208.70 C220.76,208.79 225.46,209.05 227.70,209.00 C229.94,208.95 233.11,208.37 235.20,208.30 C237.29,208.23 240.19,208.29 243.40,208.50 C246.61,208.71 255.73,209.57 259.30,209.90 C262.87,210.23 266.40,210.85 270.20,211.00 C274.00,211.15 284.23,211.67 287.80,211.00 C291.37,210.33 294.43,207.56 297.00,206.00 C299.57,204.44 304.42,201.02 307.10,199.30 C309.78,197.58 315.10,194.10 317.10,193.10 C319.10,192.10 320.09,191.97 322.10,191.80 C324.11,191.63 330.41,191.13 332.20,191.80 C333.99,192.47 334.27,195.24 335.50,196.80 C336.73,198.36 339.83,202.94 341.40,203.50 C342.97,204.06 345.49,201.33 347.30,201.00 C349.11,200.67 351.31,201.33 355.00,201.00 C358.69,200.67 370.77,199.03 375.00,198.50 C379.23,197.97 383.79,198.21 386.70,197.00 C389.61,195.79 393.89,191.64 396.80,189.40 C399.71,187.16 405.61,182.55 408.50,180.20 C411.39,177.85 416.43,173.49 418.50,171.80 C420.57,170.11 422.65,168.37 424.00,167.50 C425.35,166.63 427.32,165.50 428.60,165.30 C429.88,165.10 431.59,165.13 433.60,166.00 C435.61,166.87 441.02,169.91 443.70,171.80 C446.38,173.69 451.02,177.85 453.70,180.20 C456.38,182.55 461.12,187.05 463.80,189.40 C466.48,191.75 471.64,196.99 473.80,197.80 C475.96,198.61 478.28,195.63 480.00,195.50 C481.72,195.37 483.79,196.69 486.70,196.80 C489.61,196.91 498.89,196.74 501.80,196.30 C504.71,195.86 505.82,193.87 508.50,193.50 C511.18,193.13 518.55,193.29 521.90,193.50 C525.25,193.71 529.36,194.21 533.60,195.10 C537.84,195.99 550.13,198.63 553.70,200.20 C557.27,201.77 558.61,204.89 560.40,206.90 C562.19,208.91 565.09,213.30 567.10,215.30 C569.11,217.30 572.82,220.57 575.50,221.90 C578.18,223.23 584.29,224.41 587.20,225.30 C590.11,226.19 594.93,227.37 597.30,228.60 C599.67,229.83 602.85,232.95 605.00,234.50 C607.15,236.05 610.49,238.19 613.40,240.20 C616.31,242.21 624.12,247.63 626.80,249.60 C629.48,251.57 631.53,253.89 633.50,255.00 C635.47,256.11 639.27,257.73 641.60,257.90 C643.93,258.07 648.51,256.95 651.00,256.30 C653.49,255.65 658.34,253.36 660.30,253.00 C662.26,252.64 663.73,253.43 665.70,253.60 C667.67,253.77 671.70,254.26 675.10,254.30 C678.50,254.34 689.05,253.95 691.20,253.90" fill="none" stroke="#b01c1c" stroke-width="1.05"/><path d="M33.00,121.10 C34.32,121.10 40.25,121.46 42.90,121.10 C45.55,120.74 49.83,119.29 52.90,118.40 C55.97,117.51 63.50,115.11 65.90,114.40 C68.30,113.69 69.31,112.89 70.90,113.10 C72.49,113.31 76.08,115.29 77.80,116.00 C79.52,116.71 82.20,117.95 83.80,118.40 C85.40,118.85 88.20,119.04 89.80,119.40 C91.40,119.76 94.44,120.62 95.80,121.10 C97.16,121.58 97.71,121.76 100.00,123.00 C102.29,124.24 109.67,128.67 113.00,130.40 C116.33,132.13 121.80,134.08 125.00,136.00 C128.20,137.92 133.40,142.25 137.00,144.80 C140.60,147.35 148.93,152.87 152.00,155.10 C155.07,157.33 157.97,159.71 160.00,161.50 C162.03,163.29 165.20,166.77 167.20,168.50 C169.20,170.23 172.77,173.05 175.00,174.50 C177.23,175.95 181.23,178.08 183.90,179.40 C186.57,180.72 191.65,183.28 195.00,184.40 C198.35,185.52 205.27,187.23 209.00,187.80 C212.73,188.37 219.53,188.89 223.00,188.70 C226.47,188.51 230.40,186.56 235.00,186.40 C239.60,186.24 250.50,187.95 257.50,187.50 C264.50,187.05 280.17,184.00 287.50,183.00 C294.83,182.00 306.38,181.01 312.50,180.00 C318.62,178.99 328.41,177.37 333.40,175.40 C338.39,173.43 345.03,167.17 349.90,165.20 C354.77,163.23 364.58,162.07 369.90,160.60 C375.22,159.13 385.28,155.76 389.80,154.20 C394.32,152.64 400.60,149.98 403.80,148.90 C407.00,147.82 411.12,146.77 413.80,146.10 C416.48,145.43 421.66,144.35 423.90,143.90 C426.14,143.45 428.81,142.57 430.60,142.70 C432.39,142.83 435.38,144.23 437.30,144.90 C439.22,145.57 442.40,146.54 445.00,147.70 C447.60,148.86 453.00,151.92 456.80,153.60 C460.60,155.28 469.03,158.74 473.50,160.30 C477.97,161.86 485.83,163.86 490.30,165.30 C494.77,166.74 502.53,169.77 507.00,171.10 C511.47,172.43 519.33,174.41 523.80,175.30 C528.27,176.19 536.03,177.01 540.50,177.80 C544.97,178.59 554.45,180.53 557.30,181.20 C560.15,181.87 559.06,181.96 561.90,182.80 C564.74,183.64 574.85,186.21 578.60,187.50 C582.35,188.79 586.61,190.70 590.00,192.50 C593.39,194.30 601.07,199.28 604.00,201.00 C606.93,202.72 610.21,204.47 612.00,205.40 C613.79,206.33 615.87,207.11 617.40,208.00 C618.93,208.89 621.98,211.02 623.50,212.10 C625.02,213.18 627.20,215.07 628.80,216.10 C630.40,217.13 633.79,219.00 635.50,219.80 C637.21,220.60 640.08,221.43 641.60,222.10 C643.12,222.77 643.69,223.72 646.90,224.80 C650.11,225.88 659.82,228.51 665.70,230.20 C671.58,231.89 687.63,236.53 691.00,237.50" fill="none" stroke="#b01c1c" stroke-width="1.1" stroke-dasharray="2.5 3.5"/><line x1="494.5" y1="145.5" x2="695" y2="240" stroke="#b01c1c" stroke-width="1.2"/><polyline points="478.75,195 621.25,262.5 695,262.5" fill="none" stroke="#b01c1c" stroke-width="1.2"/><line x1="28.5" y1="112" x2="28.5" y2="139" stroke="#000" stroke-width="1"/><rect x="27.5" y="117.5" width="2" height="21.0" fill="#ffffff" stroke="#000" stroke-width="1"/><line x1="33.5" y1="112" x2="33.5" y2="132" stroke="#000" stroke-width="1"/><rect x="32.5" y="112.5" width="2" height="2.0" fill="#901a1a" stroke="#000" stroke-width="1"/><line x1="38.5" y1="106" x2="38.5" y2="113" stroke="#000" stroke-width="1"/><rect x="37.5" y="106.5" width="2" height="6.0" fill="#ffffff" stroke="#000" stroke-width="1"/><line x1="43.5" y1="99" x2="43.5" y2="121" stroke="#000" stroke-width="1"/><rect x="42.5" y="106.5" width="2" height="5.0" fill="#901a1a" stroke="#000" stroke-width="1"/><line x1="48.5" y1="100" x2="48.5" y2="110" stroke="#000" stroke-width="1"/><rect x="47.5" y="100.5" width="2" height="10.0" fill="#ffffff" stroke="#000" stroke-width="1"/><line x1="53.5" y1="91" x2="53.5" y2="108" stroke="#000" stroke-width="1"/><rect x="52.5" y="91.5" width="2" height="10.0" fill="#ffffff" stroke="#000" stroke-width="1"/><line x1="58.5" y1="79" x2="58.5" y2="92" stroke="#000" stroke-width="1"/><rect x="57.0" y="90" width="3" height="2" fill="#000"/><line x1="63.5" y1="74" x2="63.5" y2="84" stroke="#000" stroke-width="1"/><rect x="62.5" y="74.5" width="2" height="6.0" fill="#ffffff" stroke="#000" stroke-width="1"/><line x1="68.5" y1="61" x2="68.5" y2="118" stroke="#000" stroke-width="1"/><rect x="67.5" y="72.5" width="2" height="14.0" fill="#901a1a" stroke="#000" stroke-width="1"/><line x1="73.5" y1="89" x2="73.5" y2="100" stroke="#000" stroke-width="1"/><rect x="72.5" y="90.5" width="2" height="7.0" fill="#901a1a" stroke="#000" stroke-width="1"/><line x1="78.5" y1="151" x2="78.5" y2="191" stroke="#000" stroke-width="1"/><rect x="77.5" y="152.5" width="2" height="16.0" fill="#ffffff" stroke="#000" stroke-width="1"/><line x1="84.5" y1="146" x2="84.5" y2="160" stroke="#000" stroke-width="1"/><rect x="83.0" y="149" width="3" height="2" fill="#000"/><line x1="89.5" y1="144" x2="89.5" y2="154" stroke="#000" stroke-width="1"/><rect x="88.5" y="144.5" width="2" height="6.0" fill="#ffffff" stroke="#000" stroke-width="1"/><line x1="94.5" y1="139" x2="94.5" y2="146" stroke="#000" stroke-width="1"/><rect x="93.5" y="139.5" width="2" height="7.0" fill="#901a1a" stroke="#000" stroke-width="1"/><line x1="99.5" y1="142" x2="99.5" y2="154" stroke="#000" stroke-width="1"/><rect x="98.0" y="149" width="3" height="2" fill="#000"/><line x1="104.5" y1="146" x2="104.5" y2="190" stroke="#000" stroke-width="1"/><rect x="103.5" y="154.5" width="2" height="35.0" fill="#901a1a" stroke="#000" stroke-width="1"/><line x1="109.5" y1="187" x2="109.5" y2="234" stroke="#000" stroke-width="1"/><rect x="108.5" y="187.5" width="2" height="38.0" fill="#901a1a" stroke="#000" stroke-width="1"/><line x1="114.5" y1="181" x2="114.5" y2="250" stroke="#000" stroke-width="1"/><rect x="113.5" y="181.5" width="2" height="58.0" fill="#ffffff" stroke="#000" stroke-width="1"/><line x1="119.5" y1="177" x2="119.5" y2="198" stroke="#000" stroke-width="1"/><rect x="118.5" y="179.5" width="2" height="17.0" fill="#901a1a" stroke="#000" stroke-width="1"/><line x1="124.5" y1="170" x2="124.5" y2="195" stroke="#000" stroke-width="1"/><rect x="123.5" y="184.5" width="2" height="8.0" fill="#ffffff" stroke="#000" stroke-width="1"/><line x1="129.5" y1="172" x2="129.5" y2="181" stroke="#000" stroke-width="1"/><rect x="128.0" y="180" width="3" height="1" fill="#000"/><line x1="134.5" y1="175" x2="134.5" y2="194" stroke="#000" stroke-width="1"/><rect x="133.5" y="175.5" width="2" height="17.0" fill="#901a1a" stroke="#000" stroke-width="1"/><line x1="139.5" y1="187" x2="139.5" y2="194" stroke="#000" stroke-width="1"/><rect x="138.0" y="192" width="3" height="2" fill="#000"/><line x1="144.5" y1="179" x2="144.5" y2="194" stroke="#000" stroke-width="1"/><rect x="143.5" y="179.5" width="2" height="15.0" fill="#ffffff" stroke="#000" stroke-width="1"/><line x1="149.5" y1="171" x2="149.5" y2="177" stroke="#000" stroke-width="1"/><rect x="148.0" y="175" width="3" height="2" fill="#000"/><line x1="154.5" y1="167" x2="154.5" y2="179" stroke="#000" stroke-width="1"/><rect x="153.5" y="167.5" width="2" height="9.0" fill="#901a1a" stroke="#000" stroke-width="1"/><line x1="160.5" y1="170" x2="160.5" y2="186" stroke="#000" stroke-width="1"/><rect x="159.5" y="170.5" width="2" height="5.0" fill="#ffffff" stroke="#000" stroke-width="1"/><line x1="165.5" y1="170" x2="165.5" y2="179" stroke="#000" stroke-width="1"/><rect x="164.5" y="170.5" width="2" height="6.0" fill="#901a1a" stroke="#000" stroke-width="1"/><line x1="170.5" y1="173" x2="170.5" y2="189" stroke="#000" stroke-width="1"/><rect x="169.5" y="180.5" width="2" height="3.0" fill="#901a1a" stroke="#000" stroke-width="1"/><line x1="175.5" y1="175" x2="175.5" y2="191" stroke="#000" stroke-width="1"/><rect x="174.5" y="175.5" width="2" height="6.0" fill="#901a1a" stroke="#000" stroke-width="1"/><line x1="180.5" y1="177" x2="180.5" y2="186" stroke="#000" stroke-width="1"/><rect x="179.5" y="177.5" width="2" height="5.0" fill="#901a1a" stroke="#000" stroke-width="1"/><line x1="185.5" y1="185" x2="185.5" y2="194" stroke="#000" stroke-width="1"/><rect x="184.5" y="187.5" width="2" height="5.0" fill="#901a1a" stroke="#000" stroke-width="1"/><line x1="190.5" y1="192" x2="190.5" y2="205" stroke="#000" stroke-width="1"/><rect x="189.5" y="192.5" width="2" height="6.0" fill="#901a1a" stroke="#000" stroke-width="1"/><line x1="195.5" y1="194" x2="195.5" y2="205" stroke="#000" stroke-width="1"/><rect x="194.0" y="203" width="3" height="2" fill="#000"/><line x1="200.5" y1="197" x2="200.5" y2="208" stroke="#000" stroke-width="1"/><rect x="199.5" y="197.5" width="2" height="10.0" fill="#ffffff" stroke="#000" stroke-width="1"/><line x1="205.5" y1="196" x2="205.5" y2="206" stroke="#000" stroke-width="1"/><rect x="204.0" y="204" width="3" height="2" fill="#000"/><line x1="210.5" y1="195" x2="210.5" y2="206" stroke="#000" stroke-width="1"/><rect x="209.5" y="202.5" width="2" height="3.0" fill="#ffffff" stroke="#000" stroke-width="1"/><line x1="215.5" y1="194" x2="215.5" y2="204" stroke="#000" stroke-width="1"/><rect x="214.5" y="194.5" width="2" height="5.0" fill="#ffffff" stroke="#000" stroke-width="1"/><line x1="220.5" y1="191" x2="220.5" y2="201" stroke="#000" stroke-width="1"/><rect x="219.0" y="191" width="3" height="2" fill="#000"/><line x1="225.5" y1="174" x2="225.5" y2="194" stroke="#000" stroke-width="1"/><rect x="224.5" y="177.5" width="2" height="15.0" fill="#ffffff" stroke="#000" stroke-width="1"/><line x1="230.5" y1="167" x2="230.5" y2="176" stroke="#000" stroke-width="1"/><rect x="229.5" y="167.5" width="2" height="9.0" fill="#ffffff" stroke="#000" stroke-width="1"/><line x1="235.5" y1="167" x2="235.5" y2="184" stroke="#000" stroke-width="1"/><rect x="234.5" y="167.5" width="2" height="9.0" fill="#901a1a" stroke="#000" stroke-width="1"/><line x1="241.5" y1="180" x2="241.5" y2="186" stroke="#000" stroke-width="1"/><rect x="240.5" y="180.5" width="2" height="2.0" fill="#901a1a" stroke="#000" stroke-width="1"/><line x1="246.5" y1="175" x2="246.5" y2="200" stroke="#000" stroke-width="1"/><rect x="245.5" y="175.5" width="2" height="23.0" fill="#901a1a" stroke="#000" stroke-width="1"/><line x1="251.5" y1="186" x2="251.5" y2="198" stroke="#000" stroke-width="1"/><rect x="250.5" y="186.5" width="2" height="4.0" fill="#901a1a" stroke="#000" stroke-width="1"/><line x1="256.5" y1="174" x2="256.5" y2="181" stroke="#000" stroke-width="1"/><rect x="255.5" y="174.5" width="2" height="4.0" fill="#ffffff" stroke="#000" stroke-width="1"/><line x1="261.5" y1="169" x2="261.5" y2="181" stroke="#000" stroke-width="1"/><rect x="260.5" y="169.5" width="2" height="12.0" fill="#ffffff" stroke="#000" stroke-width="1"/><line x1="266.5" y1="167" x2="266.5" y2="175" stroke="#000" stroke-width="1"/><rect x="265.5" y="167.5" width="2" height="4.0" fill="#ffffff" stroke="#000" stroke-width="1"/><line x1="271.5" y1="167" x2="271.5" y2="172" stroke="#000" stroke-width="1"/><rect x="270.0" y="170" width="3" height="2" fill="#000"/><line x1="276.5" y1="168" x2="276.5" y2="179" stroke="#000" stroke-width="1"/><rect x="275.5" y="168.5" width="2" height="2.0" fill="#ffffff" stroke="#000" stroke-width="1"/><line x1="281.5" y1="169" x2="281.5" y2="179" stroke="#000" stroke-width="1"/><rect x="280.5" y="169.5" width="2" height="10.0" fill="#ffffff" stroke="#000" stroke-width="1"/><line x1="286.5" y1="167" x2="286.5" y2="176" stroke="#000" stroke-width="1"/><rect x="285.5" y="169.5" width="2" height="7.0" fill="#901a1a" stroke="#000" stroke-width="1"/><line x1="291.5" y1="172" x2="291.5" y2="183" stroke="#000" stroke-width="1"/><rect x="290.5" y="172.5" width="2" height="10.0" fill="#901a1a" stroke="#000" stroke-width="1"/><line x1="296.5" y1="171" x2="296.5" y2="181" stroke="#000" stroke-width="1"/><rect x="295.5" y="178.5" width="2" height="2.0" fill="#ffffff" stroke="#000" stroke-width="1"/><line x1="301.5" y1="172" x2="301.5" y2="189" stroke="#000" stroke-width="1"/><rect x="300.5" y="172.5" width="2" height="9.0" fill="#901a1a" stroke="#000" stroke-width="1"/><line x1="306.5" y1="180" x2="306.5" y2="186" stroke="#000" stroke-width="1"/><rect x="305.5" y="180.5" width="2" height="4.0" fill="#901a1a" stroke="#000" stroke-width="1"/><line x1="311.5" y1="172" x2="311.5" y2="180" stroke="#000" stroke-width="1"/><rect x="310.5" y="172.5" width="2" height="8.0" fill="#ffffff" stroke="#000" stroke-width="1"/><line x1="316.5" y1="174" x2="316.5" y2="180" stroke="#000" stroke-width="1"/><rect x="315.0" y="177" width="3" height="2" fill="#000"/><line x1="322.5" y1="175" x2="322.5" y2="186" stroke="#000" stroke-width="1"/><rect x="321.5" y="178.5" width="2" height="2.0" fill="#901a1a" stroke="#000" stroke-width="1"/><line x1="327.5" y1="171" x2="327.5" y2="188" stroke="#000" stroke-width="1"/><rect x="326.5" y="171.5" width="2" height="15.0" fill="#ffffff" stroke="#000" stroke-width="1"/><line x1="332.5" y1="167" x2="332.5" y2="175" stroke="#000" stroke-width="1"/><rect x="331.5" y="167.5" width="2" height="5.0" fill="#ffffff" stroke="#000" stroke-width="1"/><line x1="337.5" y1="120" x2="337.5" y2="158" stroke="#000" stroke-width="1"/><rect x="336.5" y="125.5" width="2" height="31.0" fill="#ffffff" stroke="#000" stroke-width="1"/><line x1="342.5" y1="125" x2="342.5" y2="136" stroke="#000" stroke-width="1"/><rect x="341.5" y="125.5" width="2" height="7.0" fill="#901a1a" stroke="#000" stroke-width="1"/><line x1="347.5" y1="132" x2="347.5" y2="142" stroke="#000" stroke-width="1"/><rect x="346.5" y="133.5" width="2" height="3.0" fill="#901a1a" stroke="#000" stroke-width="1"/><line x1="352.5" y1="130" x2="352.5" y2="138" stroke="#000" stroke-width="1"/><rect x="351.5" y="130.5" width="2" height="7.0" fill="#ffffff" stroke="#000" stroke-width="1"/><line x1="357.5" y1="126" x2="357.5" y2="141" stroke="#000" stroke-width="1"/><rect x="356.5" y="137.5" width="2" height="4.0" fill="#ffffff" stroke="#000" stroke-width="1"/><line x1="362.5" y1="132" x2="362.5" y2="149" stroke="#000" stroke-width="1"/><rect x="361.5" y="139.5" width="2" height="8.0" fill="#901a1a" stroke="#000" stroke-width="1"/><line x1="367.5" y1="141" x2="367.5" y2="148" stroke="#000" stroke-width="1"/><rect x="366.0" y="143" width="3" height="2" fill="#000"/><line x1="372.5" y1="146" x2="372.5" y2="165" stroke="#000" stroke-width="1"/><rect x="371.0" y="148" width="3" height="2" fill="#000"/><line x1="377.5" y1="145" x2="377.5" y2="164" stroke="#000" stroke-width="1"/><rect x="376.5" y="145.5" width="2" height="6.0" fill="#ffffff" stroke="#000" stroke-width="1"/><line x1="382.5" y1="134" x2="382.5" y2="145" stroke="#000" stroke-width="1"/><rect x="381.5" y="134.5" width="2" height="11.0" fill="#ffffff" stroke="#000" stroke-width="1"/><line x1="387.5" y1="125" x2="387.5" y2="131" stroke="#000" stroke-width="1"/><rect x="386.0" y="125" width="3" height="2" fill="#000"/><line x1="392.5" y1="133" x2="392.5" y2="144" stroke="#000" stroke-width="1"/><rect x="391.5" y="133.5" width="2" height="11.0" fill="#901a1a" stroke="#000" stroke-width="1"/><line x1="398.5" y1="141" x2="398.5" y2="145" stroke="#000" stroke-width="1"/><rect x="397.0" y="143" width="3" height="2" fill="#000"/><line x1="403.5" y1="136" x2="403.5" y2="148" stroke="#000" stroke-width="1"/><rect x="402.5" y="139.5" width="2" height="3.0" fill="#901a1a" stroke="#000" stroke-width="1"/><line x1="408.5" y1="135" x2="408.5" y2="148" stroke="#000" stroke-width="1"/><rect x="407.0" y="135" width="3" height="2" fill="#000"/><line x1="413.5" y1="138" x2="413.5" y2="148" stroke="#000" stroke-width="1"/><rect x="412.5" y="138.5" width="2" height="9.0" fill="#901a1a" stroke="#000" stroke-width="1"/><line x1="418.5" y1="145" x2="418.5" y2="156" stroke="#000" stroke-width="1"/><rect x="417.5" y="149.5" width="2" height="7.0" fill="#901a1a" stroke="#000" stroke-width="1"/><line x1="423.5" y1="154" x2="423.5" y2="164" stroke="#000" stroke-width="1"/><rect x="422.5" y="154.5" width="2" height="8.0" fill="#901a1a" stroke="#000" stroke-width="1"/><line x1="428.5" y1="157" x2="428.5" y2="163" stroke="#000" stroke-width="1"/><rect x="427.5" y="157.5" width="2" height="5.0" fill="#ffffff" stroke="#000" stroke-width="1"/><line x1="433.5" y1="164" x2="433.5" y2="175" stroke="#000" stroke-width="1"/><rect x="432.5" y="164.5" width="2" height="8.0" fill="#901a1a" stroke="#000" stroke-width="1"/><line x1="438.5" y1="167" x2="438.5" y2="195" stroke="#000" stroke-width="1"/><rect x="437.5" y="172.5" width="2" height="4.0" fill="#ffffff" stroke="#000" stroke-width="1"/><line x1="443.5" y1="162" x2="443.5" y2="165" stroke="#000" stroke-width="1"/><rect x="442.5" y="162.5" width="2" height="2.0" fill="#ffffff" stroke="#000" stroke-width="1"/><line x1="448.5" y1="159" x2="448.5" y2="176" stroke="#000" stroke-width="1"/><rect x="447.5" y="172.5" width="2" height="4.0" fill="#901a1a" stroke="#000" stroke-width="1"/><line x1="453.5" y1="172" x2="453.5" y2="176" stroke="#000" stroke-width="1"/><rect x="452.5" y="172.5" width="2" height="4.0" fill="#901a1a" stroke="#000" stroke-width="1"/><line x1="458.5" y1="179" x2="458.5" y2="196" stroke="#000" stroke-width="1"/><rect x="457.5" y="179.5" width="2" height="12.0" fill="#901a1a" stroke="#000" stroke-width="1"/><line x1="463.5" y1="179" x2="463.5" y2="189" stroke="#000" stroke-width="1"/><rect x="462.0" y="183" width="3" height="2" fill="#000"/><line x1="468.5" y1="179" x2="468.5" y2="188" stroke="#000" stroke-width="1"/><rect x="467.5" y="179.5" width="2" height="5.0" fill="#901a1a" stroke="#000" stroke-width="1"/><line x1="473.5" y1="184" x2="473.5" y2="198" stroke="#000" stroke-width="1"/><rect x="472.5" y="184.5" width="2" height="6.0" fill="#901a1a" stroke="#000" stroke-width="1"/><line x1="479.5" y1="161" x2="479.5" y2="196" stroke="#000" stroke-width="1"/><rect x="478.5" y="164.5" width="2" height="31.0" fill="#ffffff" stroke="#000" stroke-width="1"/><line x1="484.5" y1="151" x2="484.5" y2="164" stroke="#000" stroke-width="1"/><rect x="483.5" y="153.5" width="2" height="6.0" fill="#ffffff" stroke="#000" stroke-width="1"/><line x1="489.5" y1="152" x2="489.5" y2="171" stroke="#000" stroke-width="1"/><rect x="488.5" y="155.5" width="2" height="15.0" fill="#901a1a" stroke="#000" stroke-width="1"/><line x1="494.5" y1="145" x2="494.5" y2="175" stroke="#000" stroke-width="1"/><rect x="493.5" y="164.5" width="2" height="6.0" fill="#ffffff" stroke="#000" stroke-width="1"/><line x1="499.5" y1="162" x2="499.5" y2="178" stroke="#000" stroke-width="1"/><rect x="498.5" y="164.5" width="2" height="6.0" fill="#901a1a" stroke="#000" stroke-width="1"/><line x1="504.5" y1="166" x2="504.5" y2="175" stroke="#000" stroke-width="1"/><rect x="503.5" y="167.5" width="2" height="6.0" fill="#901a1a" stroke="#000" stroke-width="1"/><line x1="509.5" y1="170" x2="509.5" y2="184" stroke="#000" stroke-width="1"/><rect x="508.5" y="176.5" width="2" height="5.0" fill="#901a1a" stroke="#000" stroke-width="1"/><line x1="514.5" y1="179" x2="514.5" y2="186" stroke="#000" stroke-width="1"/><rect x="513.5" y="179.5" width="2" height="3.0" fill="#ffffff" stroke="#000" stroke-width="1"/><line x1="519.5" y1="179" x2="519.5" y2="190" stroke="#000" stroke-width="1"/><rect x="518.5" y="179.5" width="2" height="5.0" fill="#ffffff" stroke="#000" stroke-width="1"/><line x1="524.5" y1="181" x2="524.5" y2="186" stroke="#000" stroke-width="1"/><rect x="523.0" y="183" width="3" height="2" fill="#000"/><line x1="529.5" y1="184" x2="529.5" y2="188" stroke="#000" stroke-width="1"/><rect x="528.5" y="184.5" width="2" height="2.0" fill="#901a1a" stroke="#000" stroke-width="1"/><line x1="534.5" y1="182" x2="534.5" y2="191" stroke="#000" stroke-width="1"/><rect x="533.5" y="184.5" width="2" height="5.0" fill="#ffffff" stroke="#000" stroke-width="1"/><line x1="539.5" y1="184" x2="539.5" y2="205" stroke="#000" stroke-width="1"/><rect x="538.5" y="184.5" width="2" height="7.0" fill="#901a1a" stroke="#000" stroke-width="1"/><line x1="544.5" y1="185" x2="544.5" y2="196" stroke="#000" stroke-width="1"/><rect x="543.5" y="188.5" width="2" height="3.0" fill="#901a1a" stroke="#000" stroke-width="1"/><line x1="549.5" y1="187" x2="549.5" y2="198" stroke="#000" stroke-width="1"/><rect x="548.0" y="187" width="3" height="2" fill="#000"/><line x1="555.5" y1="194" x2="555.5" y2="206" stroke="#000" stroke-width="1"/><rect x="554.5" y="194.5" width="2" height="6.0" fill="#901a1a" stroke="#000" stroke-width="1"/><line x1="560.5" y1="196" x2="560.5" y2="206" stroke="#000" stroke-width="1"/><rect x="559.0" y="203" width="3" height="2" fill="#000"/><line x1="565.5" y1="201" x2="565.5" y2="223" stroke="#000" stroke-width="1"/><rect x="564.5" y="206.5" width="2" height="11.0" fill="#901a1a" stroke="#000" stroke-width="1"/><line x1="570.5" y1="215" x2="570.5" y2="226" stroke="#000" stroke-width="1"/><rect x="569.5" y="216.5" width="2" height="8.0" fill="#901a1a" stroke="#000" stroke-width="1"/><line x1="575.5" y1="215" x2="575.5" y2="224" stroke="#000" stroke-width="1"/><rect x="574.5" y="216.5" width="2" height="6.0" fill="#ffffff" stroke="#000" stroke-width="1"/><line x1="580.5" y1="205" x2="580.5" y2="221" stroke="#000" stroke-width="1"/><rect x="579.5" y="206.5" width="2" height="13.0" fill="#ffffff" stroke="#000" stroke-width="1"/><line x1="585.5" y1="206" x2="585.5" y2="218" stroke="#000" stroke-width="1"/><rect x="584.5" y="206.5" width="2" height="8.0" fill="#901a1a" stroke="#000" stroke-width="1"/><line x1="590.5" y1="216" x2="590.5" y2="221" stroke="#000" stroke-width="1"/><rect x="589.5" y="216.5" width="2" height="3.0" fill="#901a1a" stroke="#000" stroke-width="1"/><line x1="595.5" y1="217" x2="595.5" y2="220" stroke="#000" stroke-width="1"/><rect x="594.5" y="217.5" width="2" height="3.0" fill="#ffffff" stroke="#000" stroke-width="1"/><line x1="600.5" y1="219" x2="600.5" y2="236" stroke="#000" stroke-width="1"/><rect x="599.5" y="219.5" width="2" height="7.0" fill="#901a1a" stroke="#000" stroke-width="1"/><line x1="605.5" y1="224" x2="605.5" y2="230" stroke="#000" stroke-width="1"/><rect x="604.0" y="224" width="3" height="2" fill="#000"/><line x1="610.5" y1="221" x2="610.5" y2="248" stroke="#000" stroke-width="1"/><rect x="609.5" y="221.5" width="2" height="16.0" fill="#901a1a" stroke="#000" stroke-width="1"/><line x1="615.5" y1="234" x2="615.5" y2="241" stroke="#000" stroke-width="1"/><rect x="614.5" y="237.5" width="2" height="3.0" fill="#901a1a" stroke="#000" stroke-width="1"/><line x1="620.5" y1="239" x2="620.5" y2="263" stroke="#000" stroke-width="1"/><rect x="619.5" y="240.5" width="2" height="6.0" fill="#901a1a" stroke="#000" stroke-width="1"/><line x1="625.5" y1="235" x2="625.5" y2="253" stroke="#000" stroke-width="1"/><rect x="624.5" y="240.5" width="2" height="9.0" fill="#901a1a" stroke="#000" stroke-width="1"/><line x1="630.5" y1="237" x2="630.5" y2="253" stroke="#000" stroke-width="1"/><rect x="629.5" y="246.5" width="2" height="5.0" fill="#ffffff" stroke="#000" stroke-width="1"/><line x1="636.5" y1="242" x2="636.5" y2="250" stroke="#000" stroke-width="1"/><rect x="635.5" y="242.5" width="2" height="3.0" fill="#901a1a" stroke="#000" stroke-width="1"/><line x1="641.5" y1="231" x2="641.5" y2="241" stroke="#000" stroke-width="1"/><rect x="640.5" y="236.5" width="2" height="5.0" fill="#ffffff" stroke="#000" stroke-width="1"/><line x1="646.5" y1="230" x2="646.5" y2="238" stroke="#000" stroke-width="1"/><rect x="645.5" y="231.5" width="2" height="5.0" fill="#901a1a" stroke="#000" stroke-width="1"/><line x1="651.5" y1="222" x2="651.5" y2="233" stroke="#000" stroke-width="1"/><rect x="650.5" y="227.5" width="2" height="3.0" fill="#ffffff" stroke="#000" stroke-width="1"/><line x1="656.5" y1="229" x2="656.5" y2="236" stroke="#000" stroke-width="1"/><rect x="655.5" y="229.5" width="2" height="5.0" fill="#901a1a" stroke="#000" stroke-width="1"/><line x1="661.5" y1="229" x2="661.5" y2="240" stroke="#000" stroke-width="1"/><rect x="660.5" y="229.5" width="2" height="7.0" fill="#901a1a" stroke="#000" stroke-width="1"/><line x1="666.5" y1="236" x2="666.5" y2="241" stroke="#000" stroke-width="1"/><rect x="665.5" y="236.5" width="2" height="4.0" fill="#901a1a" stroke="#000" stroke-width="1"/><line x1="671.5" y1="230" x2="671.5" y2="243" stroke="#000" stroke-width="1"/><rect x="670.5" y="230.5" width="2" height="5.0" fill="#901a1a" stroke="#000" stroke-width="1"/><line x1="676.5" y1="236" x2="676.5" y2="246" stroke="#000" stroke-width="1"/><rect x="675.5" y="236.5" width="2" height="5.0" fill="#901a1a" stroke="#000" stroke-width="1"/><line x1="681.5" y1="242" x2="681.5" y2="248" stroke="#000" stroke-width="1"/><rect x="680.0" y="242" width="3" height="2" fill="#000"/><line x1="686.5" y1="244" x2="686.5" y2="250" stroke="#000" stroke-width="1"/><rect x="685.5" y="244.5" width="2" height="3.0" fill="#901a1a" stroke="#000" stroke-width="1"/><line x1="691.5" y1="245" x2="691.5" y2="260" stroke="#000" stroke-width="1"/><rect x="690.5" y="245.5" width="2" height="6.0" fill="#901a1a" stroke="#000" stroke-width="1"/><line x1="27" y1="335.5" x2="695" y2="335.5" stroke="#bcbcbc" stroke-width="1" stroke-dasharray="1 4"/><line x1="27" y1="350.5" x2="695" y2="350.5" stroke="#bcbcbc" stroke-width="1" stroke-dasharray="1 4"/><line x1="27" y1="366.5" x2="695" y2="366.5" stroke="#bcbcbc" stroke-width="1" stroke-dasharray="1 4"/><line x1="27" y1="396.5" x2="695" y2="396.5" stroke="#bcbcbc" stroke-width="1" stroke-dasharray="1 4"/><line x1="28.5" y1="308" x2="28.5" y2="405" stroke="#bcbcbc" stroke-width="1" stroke-dasharray="1 4"/><line x1="53.5" y1="308" x2="53.5" y2="405" stroke="#bcbcbc" stroke-width="1" stroke-dasharray="1 4"/><line x1="78.5" y1="308" x2="78.5" y2="405" stroke="#bcbcbc" stroke-width="1" stroke-dasharray="1 4"/><line x1="154.5" y1="308" x2="154.5" y2="405" stroke="#bcbcbc" stroke-width="1" stroke-dasharray="1 4"/><line x1="180.5" y1="308" x2="180.5" y2="405" stroke="#bcbcbc" stroke-width="1" stroke-dasharray="1 4"/><line x1="256.5" y1="308" x2="256.5" y2="405" stroke="#bcbcbc" stroke-width="1" stroke-dasharray="1 4"/><line x1="281.5" y1="308" x2="281.5" y2="405" stroke="#bcbcbc" stroke-width="1" stroke-dasharray="1 4"/><line x1="306.5" y1="308" x2="306.5" y2="405" stroke="#bcbcbc" stroke-width="1" stroke-dasharray="1 4"/><line x1="357.5" y1="308" x2="357.5" y2="405" stroke="#bcbcbc" stroke-width="1" stroke-dasharray="1 4"/><line x1="382.5" y1="308" x2="382.5" y2="405" stroke="#bcbcbc" stroke-width="1" stroke-dasharray="1 4"/><line x1="408.5" y1="308" x2="408.5" y2="405" stroke="#bcbcbc" stroke-width="1" stroke-dasharray="1 4"/><line x1="484.5" y1="308" x2="484.5" y2="405" stroke="#bcbcbc" stroke-width="1" stroke-dasharray="1 4"/><line x1="509.5" y1="308" x2="509.5" y2="405" stroke="#bcbcbc" stroke-width="1" stroke-dasharray="1 4"/><line x1="534.5" y1="308" x2="534.5" y2="405" stroke="#bcbcbc" stroke-width="1" stroke-dasharray="1 4"/><line x1="585.5" y1="308" x2="585.5" y2="405" stroke="#bcbcbc" stroke-width="1" stroke-dasharray="1 4"/><line x1="610.5" y1="308" x2="610.5" y2="405" stroke="#bcbcbc" stroke-width="1" stroke-dasharray="1 4"/><line x1="636.5" y1="308" x2="636.5" y2="405" stroke="#bcbcbc" stroke-width="1" stroke-dasharray="1 4"/><line x1="114.5" y1="308" x2="114.5" y2="405" stroke="#a8b4a8" stroke-width="1"/><line x1="225.5" y1="308" x2="225.5" y2="405" stroke="#a8b4a8" stroke-width="1"/><line x1="332.5" y1="308" x2="332.5" y2="405" stroke="#a8b4a8" stroke-width="1"/><line x1="448.5" y1="308" x2="448.5" y2="405" stroke="#a8b4a8" stroke-width="1"/><line x1="560.5" y1="308" x2="560.5" y2="405" stroke="#a8b4a8" stroke-width="1"/><line x1="666.5" y1="308" x2="666.5" y2="405" stroke="#a8b4a8" stroke-width="1"/><line x1="27" y1="320.5" x2="695" y2="320.5" stroke="#b0bcb0" stroke-width="1"/><line x1="27" y1="322.5" x2="695" y2="322.5" stroke="#1c1c64" stroke-width="1.3"/><line x1="27" y1="381.5" x2="695" y2="381.5" stroke="#1c1c64" stroke-width="1.3"/><polyline points="28.00,343.75 38.75,338.75 43.75,341.25 50.00,335.00 58.75,331.25 63.75,326.25 73.75,341.25 78.75,367.50 90.00,362.50 100.00,366.25 109.50,387.00 114.50,366.25 119.50,370.00 127.50,364.50 139.50,368.00 145.00,361.25 158.75,357.50 170.00,362.00 176.25,361.25 195.00,372.00 200.50,367.50 206.25,371.25 215.00,362.50 221.25,359.50 230.50,344.50 236.25,351.25 240.00,353.75 246.25,363.00 256.25,347.50 265.00,344.50 272.50,347.00 280.00,346.25 291.25,355.50 297.50,353.25 306.25,357.00 311.25,348.75 317.50,353.75 322.50,355.00 327.50,347.00 332.50,343.75 337.50,323.00 347.50,331.25 352.50,328.75 362.50,342.00 366.25,341.25 372.50,345.00 377.50,342.00 383.75,333.75 387.50,331.25 392.50,345.00 398.75,346.25 408.75,341.25 416.25,352.50 423.75,358.75 428.75,356.25 433.75,365.50 438.75,365.50 443.75,357.50 448.75,365.00 453.75,365.50 458.75,373.00 465.00,368.75 468.75,367.50 474.50,371.25 479.50,351.25 484.50,344.50 489.50,355.00 494.50,352.50 510.00,361.25 518.75,359.50 525.00,363.75 533.00,363.75 540.00,368.00 545.00,368.00 551.25,365.50 555.00,373.75 560.00,378.00 565.00,382.50 570.00,385.00 575.00,379.50 580.00,368.00 585.00,370.00 591.25,374.50 595.00,373.75 601.25,378.00 606.25,378.75 611.25,385.00 617.50,387.00 625.50,390.00 630.50,387.50 636.25,385.00 641.25,375.00 646.25,372.50 651.25,363.75 660.00,368.75 666.25,372.00 671.25,367.00 678.75,372.00 686.25,375.00 691.25,380.00" fill="none" stroke="#1a1a4a" stroke-width="1" stroke-linejoin="round"/><line x1="27" y1="416.5" x2="695" y2="416.5" stroke="#bcbcbc" stroke-width="1" stroke-dasharray="1 4"/><line x1="27" y1="430.5" x2="695" y2="430.5" stroke="#bcbcbc" stroke-width="1" stroke-dasharray="1 4"/><line x1="27" y1="445.5" x2="695" y2="445.5" stroke="#bcbcbc" stroke-width="1" stroke-dasharray="1 4"/><line x1="27" y1="459.5" x2="695" y2="459.5" stroke="#bcbcbc" stroke-width="1" stroke-dasharray="1 4"/><line x1="27" y1="489.5" x2="695" y2="489.5" stroke="#bcbcbc" stroke-width="1" stroke-dasharray="1 4"/><line x1="28.5" y1="408" x2="28.5" y2="504.5" stroke="#bcbcbc" stroke-width="1" stroke-dasharray="1 4"/><line x1="53.5" y1="408" x2="53.5" y2="504.5" stroke="#bcbcbc" stroke-width="1" stroke-dasharray="1 4"/><line x1="78.5" y1="408" x2="78.5" y2="504.5" stroke="#bcbcbc" stroke-width="1" stroke-dasharray="1 4"/><line x1="154.5" y1="408" x2="154.5" y2="504.5" stroke="#bcbcbc" stroke-width="1" stroke-dasharray="1 4"/><line x1="180.5" y1="408" x2="180.5" y2="504.5" stroke="#bcbcbc" stroke-width="1" stroke-dasharray="1 4"/><line x1="256.5" y1="408" x2="256.5" y2="504.5" stroke="#bcbcbc" stroke-width="1" stroke-dasharray="1 4"/><line x1="281.5" y1="408" x2="281.5" y2="504.5" stroke="#bcbcbc" stroke-width="1" stroke-dasharray="1 4"/><line x1="306.5" y1="408" x2="306.5" y2="504.5" stroke="#bcbcbc" stroke-width="1" stroke-dasharray="1 4"/><line x1="357.5" y1="408" x2="357.5" y2="504.5" stroke="#bcbcbc" stroke-width="1" stroke-dasharray="1 4"/><line x1="382.5" y1="408" x2="382.5" y2="504.5" stroke="#bcbcbc" stroke-width="1" stroke-dasharray="1 4"/><line x1="408.5" y1="408" x2="408.5" y2="504.5" stroke="#bcbcbc" stroke-width="1" stroke-dasharray="1 4"/><line x1="484.5" y1="408" x2="484.5" y2="504.5" stroke="#bcbcbc" stroke-width="1" stroke-dasharray="1 4"/><line x1="509.5" y1="408" x2="509.5" y2="504.5" stroke="#bcbcbc" stroke-width="1" stroke-dasharray="1 4"/><line x1="534.5" y1="408" x2="534.5" y2="504.5" stroke="#bcbcbc" stroke-width="1" stroke-dasharray="1 4"/><line x1="585.5" y1="408" x2="585.5" y2="504.5" stroke="#bcbcbc" stroke-width="1" stroke-dasharray="1 4"/><line x1="610.5" y1="408" x2="610.5" y2="504.5" stroke="#bcbcbc" stroke-width="1" stroke-dasharray="1 4"/><line x1="636.5" y1="408" x2="636.5" y2="504.5" stroke="#bcbcbc" stroke-width="1" stroke-dasharray="1 4"/><line x1="114.5" y1="408" x2="114.5" y2="504.5" stroke="#a8b4a8" stroke-width="1"/><line x1="225.5" y1="408" x2="225.5" y2="504.5" stroke="#a8b4a8" stroke-width="1"/><line x1="332.5" y1="408" x2="332.5" y2="504.5" stroke="#a8b4a8" stroke-width="1"/><line x1="448.5" y1="408" x2="448.5" y2="504.5" stroke="#a8b4a8" stroke-width="1"/><line x1="560.5" y1="408" x2="560.5" y2="504.5" stroke="#a8b4a8" stroke-width="1"/><line x1="666.5" y1="408" x2="666.5" y2="504.5" stroke="#a8b4a8" stroke-width="1"/><line x1="27" y1="433.5" x2="695" y2="433.5" stroke="#1c1c64" stroke-width="1.3"/><line x1="27" y1="476.5" x2="695" y2="476.5" stroke="#1c1c64" stroke-width="1.3"/><path d="M28.50,459.00 C28.99,457.63 33.53,444.90 34.40,442.60 C35.27,440.30 38.02,432.77 38.90,431.40 C39.77,430.03 42.92,426.57 44.90,426.20 C46.88,425.82 60.22,425.91 62.70,426.90 C65.18,427.89 73.45,436.54 74.70,438.10 C75.95,439.66 76.71,443.55 77.70,445.60 C78.69,447.65 85.36,461.02 86.60,462.70 C87.84,464.38 91.11,465.88 92.60,465.70 C94.09,465.52 103.14,460.75 104.50,460.50 C105.86,460.25 108.03,461.90 108.90,462.70 C109.77,463.50 113.35,470.60 114.90,470.10 C116.45,469.60 125.83,459.01 127.50,456.75 C129.18,454.49 133.54,443.73 135.00,443.00 C136.46,442.27 143.33,447.58 145.00,448.00 C146.67,448.42 153.44,448.83 155.00,448.00 C156.56,447.17 162.29,438.42 163.75,438.00 C165.21,437.58 170.94,441.12 172.50,443.00 C174.06,444.88 180.62,457.58 182.50,460.50 C184.38,463.42 193.12,476.54 195.00,478.00 C196.88,479.46 203.75,478.10 205.00,478.00 C206.25,477.90 208.96,478.00 210.00,476.75 C211.04,475.50 216.25,465.81 217.50,463.00 C218.75,460.19 223.85,446.02 225.00,443.00 C226.15,439.98 230.31,428.10 231.25,426.75 C232.19,425.40 235.31,426.02 236.25,426.75 C237.19,427.48 240.94,432.48 242.50,435.50 C244.06,438.52 253.33,461.54 255.00,463.00 C256.67,464.46 261.25,455.92 262.50,453.00 C263.75,450.08 268.96,430.33 270.00,428.00 C271.04,425.67 273.96,425.00 275.00,425.00 C276.04,425.00 281.04,426.08 282.50,428.00 C283.96,429.92 291.04,444.46 292.50,448.00 C293.96,451.54 298.54,469.04 300.00,470.50 C301.46,471.96 308.33,467.17 310.00,465.50 C311.67,463.83 318.12,452.79 320.00,450.50 C321.88,448.21 330.83,439.98 332.50,438.00 C334.17,436.02 338.54,427.58 340.00,426.75 C341.46,425.92 348.33,427.17 350.00,428.00 C351.67,428.83 358.33,433.62 360.00,436.75 C361.67,439.88 368.54,462.69 370.00,465.50 C371.46,468.31 376.04,472.17 377.50,470.50 C378.96,468.83 386.25,448.46 387.50,445.50 C388.75,442.54 391.56,435.52 392.50,435.00 C393.44,434.48 397.50,437.54 398.75,439.25 C400.00,440.96 406.15,453.21 407.50,455.50 C408.85,457.79 413.75,464.88 415.00,466.75 C416.25,468.62 421.04,476.44 422.50,478.00 C423.96,479.56 430.83,485.71 432.50,485.50 C434.17,485.29 441.25,477.38 442.50,475.50 C443.75,473.62 446.46,465.08 447.50,463.00 C448.54,460.92 453.75,450.92 455.00,450.50 C456.25,450.08 461.04,456.44 462.50,458.00 C463.96,459.56 470.83,469.25 472.50,469.25 C474.17,469.25 481.04,460.19 482.50,458.00 C483.96,455.81 488.75,444.77 490.00,443.00 C491.25,441.23 496.04,435.50 497.50,436.75 C498.96,438.00 505.83,454.67 507.50,458.00 C509.17,461.33 515.62,475.50 517.50,476.75 C519.38,478.00 527.92,474.15 530.00,473.00 C532.08,471.85 540.62,464.67 542.50,463.00 C544.38,461.33 551.04,453.52 552.50,453.00 C553.96,452.48 558.33,454.42 560.00,456.75 C561.67,459.08 570.94,479.12 572.50,481.00 C574.06,482.88 577.92,479.92 578.75,479.25 C579.58,478.58 581.46,474.67 582.50,473.00 C583.54,471.33 589.69,460.02 591.25,459.25 C592.81,458.48 599.69,463.12 601.25,463.75 C602.81,464.38 608.02,466.35 610.00,466.75 C611.98,467.15 622.50,469.12 625.00,468.50 C627.50,467.88 638.23,460.85 640.00,459.25 C641.77,457.65 645.10,451.12 646.25,449.25 C647.40,447.38 652.81,437.69 653.75,436.75 C654.69,435.81 656.56,437.17 657.50,438.00 C658.44,438.83 663.96,444.67 665.00,446.75 C666.04,448.83 669.06,460.92 670.00,463.00 C670.94,465.08 674.58,470.81 676.25,471.75 C677.92,472.69 688.85,474.04 690.00,474.25" fill="none" stroke="#b01c1c" stroke-width="1" stroke-dasharray="6 4"/><path d="M28.50,441.80 C29.31,440.25 36.83,424.50 38.20,423.20 C39.57,421.90 42.86,425.95 44.90,426.20 C46.94,426.45 60.34,424.71 62.70,426.20 C65.06,427.69 71.46,440.75 73.20,444.10 C74.94,447.45 82.23,464.47 83.60,466.40 C84.97,468.32 88.29,468.19 89.60,467.20 C90.91,466.21 97.81,454.50 99.30,454.50 C100.79,454.50 106.26,465.71 107.50,467.20 C108.74,468.69 112.83,473.77 114.20,472.40 C115.58,471.03 122.31,453.71 124.00,450.80 C125.69,447.89 132.79,437.05 134.50,437.50 C136.21,437.95 143.21,454.79 144.50,456.25 C145.79,457.71 148.75,456.73 150.00,455.00 C151.25,453.27 158.29,436.92 159.50,435.50 C160.71,434.08 162.79,435.88 164.50,438.00 C166.21,440.12 177.88,458.08 180.00,461.00 C182.12,463.92 188.75,470.92 190.00,473.00 C191.25,475.08 194.17,485.58 195.00,486.00 C195.83,486.42 199.06,478.42 200.00,478.00 C200.94,477.58 205.00,482.15 206.25,481.00 C207.50,479.85 213.44,468.67 215.00,464.25 C216.56,459.83 223.75,431.33 225.00,428.00 C226.25,424.67 229.17,424.25 230.00,424.25 C230.83,424.25 234.06,426.85 235.00,428.00 C235.94,429.15 239.90,434.56 241.25,438.00 C242.60,441.44 249.69,467.48 251.25,469.25 C252.81,471.02 258.75,462.69 260.00,459.25 C261.25,455.81 265.31,430.98 266.25,428.00 C267.19,425.02 269.79,423.29 271.25,423.50 C272.71,423.71 281.56,426.17 283.75,430.50 C285.94,434.83 295.73,472.17 297.50,475.50 C299.27,478.83 303.75,472.48 305.00,470.50 C306.25,468.52 311.04,454.04 312.50,451.75 C313.96,449.46 321.25,443.83 322.50,443.00 C323.75,442.17 326.29,443.46 327.50,441.75 C328.71,440.04 335.12,423.44 337.00,422.50 C338.88,421.56 348.29,429.00 350.00,430.50 C351.71,432.00 356.04,436.75 357.50,440.50 C358.96,444.25 366.29,472.42 367.50,475.50 C368.71,478.58 370.96,479.06 372.00,477.50 C373.04,475.94 378.71,460.35 380.00,456.75 C381.29,453.15 386.56,436.19 387.50,434.25 C388.44,432.31 389.90,431.31 391.25,433.50 C392.60,435.69 402.29,458.08 403.75,460.50 C405.21,462.92 407.08,460.10 408.75,462.50 C410.42,464.90 421.67,487.50 423.75,489.25 C425.83,491.00 431.77,486.73 433.75,483.50 C435.73,480.27 445.83,453.46 447.50,450.50 C449.17,447.54 452.81,447.06 453.75,448.00 C454.69,448.94 457.44,459.77 458.75,461.75 C460.06,463.73 468.15,471.27 469.50,471.75 C470.85,472.23 473.33,470.73 475.00,467.50 C476.67,464.27 487.83,435.46 489.50,433.00 C491.17,430.54 492.88,433.88 495.00,438.00 C497.12,442.12 512.92,479.42 515.00,482.50 C517.08,485.58 518.75,476.00 520.00,475.00 C521.25,474.00 528.65,471.19 530.00,470.50 C531.35,469.81 534.48,468.52 536.25,466.75 C538.02,464.98 549.27,449.40 551.25,449.25 C553.23,449.10 558.94,462.52 560.00,465.00 C561.06,467.48 563.17,477.25 564.00,479.00 C564.83,480.75 568.98,486.29 570.00,486.00 C571.02,485.71 575.00,477.83 576.25,475.50 C577.50,473.17 583.85,459.67 585.00,458.00 C586.15,456.33 589.17,455.08 590.00,455.50 C590.83,455.92 594.06,462.00 595.00,463.00 C595.94,464.00 600.00,467.29 601.25,467.50 C602.50,467.71 608.75,465.42 610.00,465.50 C611.25,465.58 614.90,468.25 616.25,468.50 C617.60,468.75 624.58,469.06 626.25,468.50 C627.92,467.94 634.69,463.98 636.25,461.75 C637.81,459.52 643.75,444.10 645.00,441.75 C646.25,439.40 650.10,433.29 651.25,433.50 C652.40,433.71 657.40,441.17 658.75,444.25 C660.10,447.33 666.35,467.90 667.50,470.50 C668.65,473.10 671.35,475.40 672.50,475.50 C673.65,475.60 679.79,471.75 681.25,471.75 C682.71,471.75 689.27,475.19 690.00,475.50" fill="none" stroke="#1a1a4a" stroke-width="1.05"/><line x1="26.5" y1="8.5" x2="26.5" y2="504.5" stroke="#a0a0a0" stroke-width="1"/><line x1="26" y1="8.5" x2="695" y2="8.5" stroke="#a0a0a0" stroke-width="1"/><line x1="26" y1="504.5" x2="695" y2="504.5" stroke="#a0a0a0" stroke-width="1"/><line x1="694.5" y1="8.5" x2="694.5" y2="504.5" stroke="#a0a0a0" stroke-width="1"/><path d="M696 27.5h2 M696 29.5h2 M696 32.5h2 M696 35.5h2 M696 37.5h2 M696 40.5h2 M696 42.5h2 M696 45.5h4 M696 48.5h2 M696 50.5h2 M696 53.5h2 M696 56.5h2 M696 58.5h4 M696 61.5h2 M696 64.5h2 M696 66.5h2 M696 69.5h2 M696 72.5h4 M696 74.5h2 M696 77.5h2 M696 79.5h2 M696 82.5h2 M696 85.5h4 M696 87.5h2 M696 90.5h2 M696 93.5h2 M696 95.5h2 M696 98.5h4 M696 101.5h2 M696 103.5h2 M696 106.5h2 M696 108.5h2 M696 111.5h4 M696 114.5h2 M696 116.5h2 M696 119.5h2 M696 122.5h2 M696 124.5h4 M696 127.5h2 M696 130.5h2 M696 132.5h2 M696 135.5h2 M696 137.5h4 M696 140.5h2 M696 143.5h2 M696 145.5h2 M696 148.5h2 M696 151.5h4 M696 153.5h2 M696 156.5h2 M696 159.5h2 M696 161.5h2 M696 164.5h4 M696 166.5h2 M696 169.5h2 M696 172.5h2 M696 174.5h2 M696 177.5h4 M696 180.5h2 M696 182.5h2 M696 185.5h2 M696 188.5h2 M696 190.5h4 M696 193.5h2 M696 195.5h2 M696 198.5h2 M696 201.5h2 M696 203.5h4 M696 206.5h2 M696 209.5h2 M696 211.5h2 M696 214.5h2 M696 217.5h4 M696 219.5h2 M696 222.5h2 M696 224.5h2 M696 227.5h2 M696 230.5h4 M696 232.5h2 M696 235.5h2 M696 238.5h2 M696 240.5h2 M696 243.5h4 M696 246.5h2 M696 248.5h2 M696 251.5h2 M696 253.5h2 M696 256.5h4 M696 259.5h2 M696 261.5h2 M696 264.5h2 M696 267.5h2 M696 269.5h4 M696 272.5h2 M696 275.5h2 M696 277.5h2 M696 280.5h2 M696 283.5h4 M696 285.5h2 M696 288.5h2 M696 290.5h2 M696 293.5h2 M696 296.5h4 M696 298.5h2 M696 301.5h2 M696 304.5h2" stroke="#444" stroke-width="1" fill="none"/><text x="698.2" y="21.3" font-size="12" fill="#1a1a1a" stroke="#1a1a1a" stroke-width="0.15" textLength="21.80" lengthAdjust="spacingAndGlyphs">EUR</text><text x="702" y="50.0" font-size="12" fill="#1a1a1a" stroke="#1a1a1a" stroke-width="0.15" textLength="20.20" lengthAdjust="spacingAndGlyphs">20,5</text><text x="702" y="63.2" font-size="12" fill="#1a1a1a" stroke="#1a1a1a" stroke-width="0.15" textLength="11.55" lengthAdjust="spacingAndGlyphs">20</text><text x="702" y="76.4" font-size="12" fill="#1a1a1a" stroke="#1a1a1a" stroke-width="0.15" textLength="20.20" lengthAdjust="spacingAndGlyphs">19,5</text><text x="702" y="89.6" font-size="12" fill="#1a1a1a" stroke="#1a1a1a" stroke-width="0.15" textLength="11.55" lengthAdjust="spacingAndGlyphs">19</text><text x="702" y="102.8" font-size="12" fill="#1a1a1a" stroke="#1a1a1a" stroke-width="0.15" textLength="20.20" lengthAdjust="spacingAndGlyphs">18,5</text><text x="702" y="116.0" font-size="12" fill="#1a1a1a" stroke="#1a1a1a" stroke-width="0.15" textLength="11.55" lengthAdjust="spacingAndGlyphs">18</text><text x="702" y="129.2" font-size="12" fill="#1a1a1a" stroke="#1a1a1a" stroke-width="0.15" textLength="20.20" lengthAdjust="spacingAndGlyphs">17,5</text><text x="702" y="142.3" font-size="12" fill="#1a1a1a" stroke="#1a1a1a" stroke-width="0.15" textLength="11.55" lengthAdjust="spacingAndGlyphs">17</text><text x="702" y="155.5" font-size="12" fill="#1a1a1a" stroke="#1a1a1a" stroke-width="0.15" textLength="20.20" lengthAdjust="spacingAndGlyphs">16,5</text><text x="702" y="168.7" font-size="12" fill="#1a1a1a" stroke="#1a1a1a" stroke-width="0.15" textLength="11.55" lengthAdjust="spacingAndGlyphs">16</text><text x="702" y="181.9" font-size="12" fill="#1a1a1a" stroke="#1a1a1a" stroke-width="0.15" textLength="20.20" lengthAdjust="spacingAndGlyphs">15,5</text><text x="702" y="195.1" font-size="12" fill="#1a1a1a" stroke="#1a1a1a" stroke-width="0.15" textLength="11.55" lengthAdjust="spacingAndGlyphs">15</text><text x="702" y="208.3" font-size="12" fill="#1a1a1a" stroke="#1a1a1a" stroke-width="0.15" textLength="20.20" lengthAdjust="spacingAndGlyphs">14,5</text><text x="702" y="221.5" font-size="12" fill="#1a1a1a" stroke="#1a1a1a" stroke-width="0.15" textLength="11.55" lengthAdjust="spacingAndGlyphs">14</text><text x="702" y="234.7" font-size="12" fill="#1a1a1a" stroke="#1a1a1a" stroke-width="0.15" textLength="20.20" lengthAdjust="spacingAndGlyphs">13,5</text><text x="702" y="247.8" font-size="12" fill="#1a1a1a" stroke="#1a1a1a" stroke-width="0.15" textLength="11.55" lengthAdjust="spacingAndGlyphs">13</text><text x="702" y="261.0" font-size="12" fill="#1a1a1a" stroke="#1a1a1a" stroke-width="0.15" textLength="20.20" lengthAdjust="spacingAndGlyphs">12,5</text><text x="702" y="274.2" font-size="12" fill="#1a1a1a" stroke="#1a1a1a" stroke-width="0.15" textLength="11.55" lengthAdjust="spacingAndGlyphs">12</text><text x="702" y="287.4" font-size="12" fill="#1a1a1a" stroke="#1a1a1a" stroke-width="0.15" textLength="19.43" lengthAdjust="spacingAndGlyphs">11,5</text><text x="702" y="300.6" font-size="12" fill="#1a1a1a" stroke="#1a1a1a" stroke-width="0.15" textLength="10.77" lengthAdjust="spacingAndGlyphs">11</text><path d="M696 401.5h2 M696 398.5h2 M696 395.5h4 M696 393.5h2 M696 390.5h2 M696 387.5h2 M696 384.5h2 M696 381.5h4 M696 378.5h2 M696 375.5h2 M696 372.5h2 M696 369.5h2 M696 366.5h4 M696 363.5h2 M696 360.5h2 M696 357.5h2 M696 354.5h2 M696 351.5h4 M696 348.5h2 M696 346.5h2 M696 343.5h2 M696 340.5h2 M696 337.5h2 M696 334.5h2 M696 331.5h2 M696 328.5h2 M696 325.5h2" stroke="#444" stroke-width="1" fill="none"/><text x="698.2" y="319.3" font-size="12" fill="#1a1a1a" stroke="#1a1a1a" stroke-width="0.15" textLength="17.30" lengthAdjust="spacingAndGlyphs">RSI</text><text x="702" y="356.3" font-size="12" fill="#1a1a1a" stroke="#1a1a1a" stroke-width="0.15" textLength="11.55" lengthAdjust="spacingAndGlyphs">50</text><text x="702" y="371.0" font-size="12" fill="#1a1a1a" stroke="#1a1a1a" stroke-width="0.15" textLength="11.55" lengthAdjust="spacingAndGlyphs">40</text><text x="702" y="385.7" font-size="12" fill="#1a1a1a" stroke="#1a1a1a" stroke-width="0.15" textLength="11.55" lengthAdjust="spacingAndGlyphs">30</text><text x="702" y="400.3" font-size="12" fill="#1a1a1a" stroke="#1a1a1a" stroke-width="0.15" textLength="11.55" lengthAdjust="spacingAndGlyphs">20</text><path d="M696 501.5h2 M696 499.5h2 M696 496.5h2 M696 493.5h2 M696 490.5h4 M696 487.5h2 M696 484.5h2 M696 481.5h2 M696 479.5h2 M696 476.5h4 M696 473.5h2 M696 470.5h2 M696 467.5h2 M696 464.5h2 M696 462.5h4 M696 459.5h2 M696 456.5h2 M696 453.5h2 M696 450.5h2 M696 447.5h4 M696 444.5h2 M696 442.5h2 M696 439.5h2 M696 436.5h2 M696 433.5h2 M696 430.5h2 M696 427.5h2 M696 424.5h2" stroke="#444" stroke-width="1" fill="none"/><text x="698.2" y="418.6" font-size="12" fill="#1a1a1a" stroke="#1a1a1a" stroke-width="0.15" textLength="35.00" lengthAdjust="spacingAndGlyphs">SSTOC</text><text x="702" y="452.1" font-size="12" fill="#1a1a1a" stroke="#1a1a1a" stroke-width="0.15" textLength="11.55" lengthAdjust="spacingAndGlyphs">60</text><text x="702" y="466.4" font-size="12" fill="#1a1a1a" stroke="#1a1a1a" stroke-width="0.15" textLength="11.55" lengthAdjust="spacingAndGlyphs">40</text><text x="702" y="480.6" font-size="12" fill="#1a1a1a" stroke="#1a1a1a" stroke-width="0.15" textLength="11.55" lengthAdjust="spacingAndGlyphs">20</text><text x="702" y="494.9" font-size="12" fill="#1a1a1a" stroke="#1a1a1a" stroke-width="0.15" textLength="5.77" lengthAdjust="spacingAndGlyphs">0</text><path d="M28.5 506v5 M33.5 506v2 M38.5 506v2 M43.5 506v2 M48.5 506v2 M53.5 506v5 M58.5 506v2 M63.5 506v2 M68.5 506v2 M73.5 506v2 M78.5 506v5 M84.5 506v2 M89.5 506v2 M94.5 506v2 M99.5 506v2 M104.5 506v2 M109.5 506v2 M114.5 506v5 M119.5 506v2 M124.5 506v2 M129.5 506v2 M134.5 506v2 M139.5 506v2 M144.5 506v2 M149.5 506v2 M154.5 506v5 M160.5 506v2 M165.5 506v2 M170.5 506v2 M175.5 506v2 M180.5 506v5 M185.5 506v2 M190.5 506v2 M195.5 506v2 M200.5 506v2 M205.5 506v2 M210.5 506v2 M215.5 506v2 M220.5 506v2 M225.5 506v5 M230.5 506v2 M235.5 506v2 M241.5 506v2 M246.5 506v2 M251.5 506v2 M256.5 506v5 M261.5 506v2 M266.5 506v2 M271.5 506v2 M276.5 506v2 M281.5 506v5 M286.5 506v2 M291.5 506v2 M296.5 506v2 M301.5 506v2 M306.5 506v5 M311.5 506v2 M316.5 506v2 M322.5 506v2 M327.5 506v2 M332.5 506v5 M337.5 506v2 M342.5 506v2 M347.5 506v2 M352.5 506v2 M357.5 506v5 M362.5 506v2 M367.5 506v2 M372.5 506v2 M377.5 506v2 M382.5 506v5 M387.5 506v2 M392.5 506v2 M398.5 506v2 M403.5 506v2 M408.5 506v5 M413.5 506v2 M418.5 506v2 M423.5 506v2 M428.5 506v2 M433.5 506v2 M438.5 506v2 M443.5 506v2 M448.5 506v5 M453.5 506v2 M458.5 506v2 M463.5 506v2 M468.5 506v2 M473.5 506v2 M479.5 506v2 M484.5 506v5 M489.5 506v2 M494.5 506v2 M499.5 506v2 M504.5 506v2 M509.5 506v5 M514.5 506v2 M519.5 506v2 M524.5 506v2 M529.5 506v2 M534.5 506v5 M539.5 506v2 M544.5 506v2 M549.5 506v2 M555.5 506v2 M560.5 506v5 M565.5 506v2 M570.5 506v2 M575.5 506v2 M580.5 506v2 M585.5 506v5 M590.5 506v2 M595.5 506v2 M600.5 506v2 M605.5 506v2 M610.5 506v5 M615.5 506v2 M620.5 506v2 M625.5 506v2 M630.5 506v2 M636.5 506v5 M641.5 506v2 M646.5 506v2 M651.5 506v2 M656.5 506v2 M661.5 506v2 M666.5 506v5 M671.5 506v2 M676.5 506v2 M681.5 506v2 M686.5 506v2 M691.5 506v2" stroke="#444" stroke-width="1" fill="none"/><text x="28" y="523.6" font-size="12" fill="#1a1a1a" stroke="#1a1a1a" stroke-width="0.15" textLength="8.66" lengthAdjust="spacingAndGlyphs">9.</text><text x="53" y="523.6" font-size="12" fill="#1a1a1a" stroke="#1a1a1a" stroke-width="0.15" textLength="14.43" lengthAdjust="spacingAndGlyphs">16.</text><text x="78" y="523.6" font-size="12" fill="#1a1a1a" stroke="#1a1a1a" stroke-width="0.15" textLength="14.43" lengthAdjust="spacingAndGlyphs">23.</text><text x="114" y="523.6" font-size="12" fill="#1a1a1a" stroke="#1a1a1a" stroke-width="0.15" textLength="16.74" lengthAdjust="spacingAndGlyphs">Jun</text><text x="154" y="523.6" font-size="12" fill="#1a1a1a" stroke="#1a1a1a" stroke-width="0.15" textLength="14.43" lengthAdjust="spacingAndGlyphs">13.</text><text x="180" y="523.6" font-size="12" fill="#1a1a1a" stroke="#1a1a1a" stroke-width="0.15" textLength="14.43" lengthAdjust="spacingAndGlyphs">20.</text><text x="225" y="523.6" font-size="12" fill="#1a1a1a" stroke="#1a1a1a" stroke-width="0.15" textLength="13.27" lengthAdjust="spacingAndGlyphs">Jul</text><text x="256" y="523.6" font-size="12" fill="#1a1a1a" stroke="#1a1a1a" stroke-width="0.15" textLength="13.66" lengthAdjust="spacingAndGlyphs">11.</text><text x="281" y="523.6" font-size="12" fill="#1a1a1a" stroke="#1a1a1a" stroke-width="0.15" textLength="14.43" lengthAdjust="spacingAndGlyphs">18.</text><text x="306" y="523.6" font-size="12" fill="#1a1a1a" stroke="#1a1a1a" stroke-width="0.15" textLength="14.43" lengthAdjust="spacingAndGlyphs">25.</text><text x="332" y="523.6" font-size="12" fill="#1a1a1a" stroke="#1a1a1a" stroke-width="0.15" textLength="18.47" lengthAdjust="spacingAndGlyphs">Aug</text><text x="357" y="523.6" font-size="12" fill="#1a1a1a" stroke="#1a1a1a" stroke-width="0.15" textLength="8.66" lengthAdjust="spacingAndGlyphs">8.</text><text x="382" y="523.6" font-size="12" fill="#1a1a1a" stroke="#1a1a1a" stroke-width="0.15" textLength="14.43" lengthAdjust="spacingAndGlyphs">15.</text><text x="408" y="523.6" font-size="12" fill="#1a1a1a" stroke="#1a1a1a" stroke-width="0.15" textLength="14.43" lengthAdjust="spacingAndGlyphs">22.</text><text x="448" y="523.6" font-size="12" fill="#1a1a1a" stroke="#1a1a1a" stroke-width="0.15" textLength="18.47" lengthAdjust="spacingAndGlyphs">Sep</text><text x="484" y="523.6" font-size="12" fill="#1a1a1a" stroke="#1a1a1a" stroke-width="0.15" textLength="14.43" lengthAdjust="spacingAndGlyphs">12.</text><text x="509" y="523.6" font-size="12" fill="#1a1a1a" stroke="#1a1a1a" stroke-width="0.15" textLength="14.43" lengthAdjust="spacingAndGlyphs">19.</text><text x="534" y="523.6" font-size="12" fill="#1a1a1a" stroke="#1a1a1a" stroke-width="0.15" textLength="14.43" lengthAdjust="spacingAndGlyphs">26.</text><text x="560" y="523.6" font-size="12" fill="#1a1a1a" stroke="#1a1a1a" stroke-width="0.15" textLength="16.15" lengthAdjust="spacingAndGlyphs">Okt</text><text x="585" y="523.6" font-size="12" fill="#1a1a1a" stroke="#1a1a1a" stroke-width="0.15" textLength="14.43" lengthAdjust="spacingAndGlyphs">10.</text><text x="610" y="523.6" font-size="12" fill="#1a1a1a" stroke="#1a1a1a" stroke-width="0.15" textLength="14.43" lengthAdjust="spacingAndGlyphs">17.</text><text x="636" y="523.6" font-size="12" fill="#1a1a1a" stroke="#1a1a1a" stroke-width="0.15" textLength="14.43" lengthAdjust="spacingAndGlyphs">24.</text><text x="666" y="523.6" font-size="12" fill="#1a1a1a" stroke="#1a1a1a" stroke-width="0.15" textLength="18.46" lengthAdjust="spacingAndGlyphs">Nov</text><g fill="none" stroke="#000" stroke-width="1.2"><rect x="30.8" y="13.6" width="5.4" height="5.2"/><line x1="33.5" y1="11" x2="33.5" y2="21"/></g><text x="42.5" y="20.6" font-size="12" fill="#1a1a1a" stroke="#1a1a1a" stroke-width="0.15" textLength="429.00" lengthAdjust="spacingAndGlyphs">NEMETSCHEK AG AKTIEN O.N. ,NEKG.DE, Tageschart - 09.05.2005 - 08.11.2005 - 12.7</text><path d="M28.5,25.4 L34,33.9 M34,25.4 L28.5,33.9 M33.5,25.4 L39,33.9 M39,25.4 L33.5,33.9" stroke="#d02424" stroke-width="1" fill="none"/><text x="42.7" y="33.9" font-size="12" fill="#d02424" stroke="#d02424" stroke-width="0.15" textLength="430.30" lengthAdjust="spacingAndGlyphs">BBD [Close, 20, 2] Moving Average:13.216 Upper Band:13.868975 Lower Band:12.563025</text><text x="28.5" y="47.6" font-size="11" fill="#1a1a1a" stroke="#1a1a1a" stroke-width="0.15" textLength="7.80" lengthAdjust="spacingAndGlyphs">©</text><text x="40" y="47.6" font-size="12" fill="#1a1a1a" stroke="#1a1a1a" stroke-width="0.15" textLength="100.00" lengthAdjust="spacingAndGlyphs">www.tradesignal.com</text><path d="M28.5,311.3 L34,319.8 M34,311.3 L28.5,319.8 M33.5,311.3 L39,319.8 M39,311.3 L33.5,319.8" stroke="#1c1c64" stroke-width="1" fill="none"/><text x="42.7" y="319.8" font-size="12" fill="#1c1c64" stroke="#1c1c64" stroke-width="0.15" textLength="123.80" lengthAdjust="spacingAndGlyphs">RSI [Close, 14]:31.435223</text><path d="M28.5,411.4 L34,419.9 M34,411.4 L28.5,419.9 M33.5,411.4 L39,419.9 M39,411.4 L33.5,419.9" stroke="#1c1c64" stroke-width="1" fill="none"/><text x="42.7" y="419.9" font-size="12" fill="#1c1c64" stroke="#1c1c64" stroke-width="0.15" textLength="171.30" lengthAdjust="spacingAndGlyphs">SSTOC [5, 3, 3] %K Slow:22.080546</text><text x="218.3" y="419.9" font-size="12" fill="#d02424" stroke="#d02424" stroke-width="0.15" textLength="94.50" lengthAdjust="spacingAndGlyphs">%D Slow:24.669344</text></svg></body></html>
